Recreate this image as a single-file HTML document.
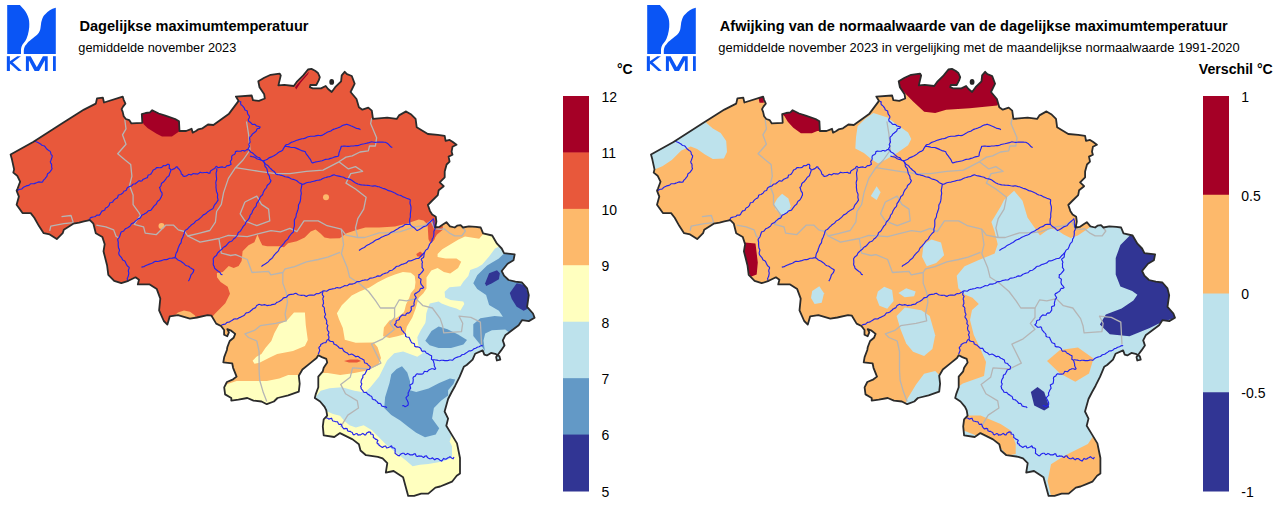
<!DOCTYPE html>
<html><head><meta charset="utf-8"><style>html,body{margin:0;padding:0;background:#fff;} svg{display:block;}</style></head>
<body><svg width="1280" height="507" viewBox="0 0 1280 507" font-family="Liberation Sans, sans-serif">
<defs><clipPath id="clipBE"><polygon points="10.6,154.5 33.1,142 61.5,123.7 84,109.6 95.8,103.6 97,98.4 102.9,97.7 104,102.5 122.7,96.6 123.7,99.8 125.4,103.7 123.2,106.4 121.6,109.1 122.7,111.9 123.7,116.2 125.9,119 129.2,120.1 131.4,123.4 142.3,122.8 141.8,114.1 145.6,113 150,112.4 152.2,110.2 158.7,113.5 165.3,115.7 175.2,119 179,121.2 179.5,131 186.1,131 191.6,128.8 192.7,132.7 195.9,131 198.1,129.4 202.5,128.3 208,124.5 213.4,125 228.7,114.1 238.6,100.9 235.9,96.6 251.7,95.5 253,100.2 258.9,100.8 264.8,98.5 264.2,94.3 259.5,87.2 258.3,81.3 264.2,77.8 270.7,74.8 279.6,73.6 280.8,75.4 278.4,85.4 284.3,84.9 293.8,86 296.7,81.9 303.3,75.4 308,69.5 311.5,68.9 315.1,70.7 318,73 319.8,77.2 318.6,80.7 316.3,85 310.4,84.9 309.8,87.2 312.7,88.4 321,88.4 325.7,86 328.1,89 331.7,92 335.2,87.2 341.1,81.3 341.7,75.4 344.7,71.8 347,74.2 351.8,76 354.7,83.7 350.6,92 356.5,99 358.9,107.3 362.4,109.7 368.3,107.6 371.8,110.6 373,118.9 387.2,117.7 396.7,118.9 399,115.4 406.1,111.4 410.8,114.2 415.6,118.9 416.7,127.2 427.9,134 437.8,134.9 444.7,135.9 445.6,140.8 449.6,139.9 452.5,141.8 456.5,144.8 452.5,146.8 451.6,151.7 452.5,154.7 448.6,156.6 449.6,161.6 446.6,164.5 444.7,171.4 444.7,177.3 439.7,182.3 443.7,186.2 438.7,190.2 437.8,195.1 431.8,201 427.9,205 429.9,210.9 432.2,214.5 435.8,216.8 436.4,221.6 435.2,227.5 439.3,226.9 442.9,224.5 446.4,222.2 450,226.3 454.7,227.5 457.1,225.7 460.6,225.1 463,227.5 468.9,226.3 476,226.9 480.7,227.5 483.1,233.4 492.2,235.5 497,243.7 501.7,248.5 504,253.2 514.7,254.4 513.5,260.3 507.6,263.8 501.7,271 504,275.7 508.6,280 515.4,281.7 522,282.5 527.1,288.4 528.8,295.1 527.1,306.8 533,313.5 534.6,317.7 528.8,321.1 522,320.2 518.7,325.3 512,330.3 505.3,335.3 502.8,340.4 504.5,345.4 501.1,350.4 498.6,353.8 496.1,357.1 496.9,360.5 500.3,359.6 499.4,356.3 495.2,353.8 491,352.9 486.9,355.4 484.3,354.6 482.7,350.4 475.1,353.8 472.6,359.6 466.7,365 463.8,366.8 459.6,376.9 455.2,385.7 451.7,392 448.1,399 444.6,411.5 448.1,418.6 446.3,425.7 451.7,434.6 457,443.4 460,458 460,473.4 456.7,475.8 452,481.7 446,484.1 440.1,486.5 435.4,487.6 428.3,493.6 421.2,493.6 414.1,495.9 408.2,495.9 403.1,477.3 393.6,471 385.8,472.6 387.3,463.1 382.6,458.4 377.9,456.8 366,455.2 360.5,450.5 358.9,444.2 352.6,439.4 340,433.1 334.3,437 323.7,435.3 322.8,426.4 323.7,419.3 327.2,415.7 326.3,410.4 324.6,406.8 320.1,401.5 314.8,398 315.7,394.4 318.3,387.3 318.3,376.6 322.8,371.3 323.7,367.8 327.2,362.4 326.3,358.9 321.9,357.1 318.3,355.3 316.6,358 311.2,362.4 302.4,369.5 298.8,375.8 299.7,383.7 298.8,391.7 288.2,395.3 277.5,398 273.9,401.5 266.8,404.2 261.5,401.5 253.5,400.6 247.3,398 238.4,399.7 231.3,400.6 231.3,398 225.1,394.4 224.2,387.3 226.9,382 233.1,379.3 236.6,376.6 233.1,367.8 232.2,363.3 223.3,362.4 224.2,357.1 226.9,350 227.3,347.3 229.7,341 233.6,337.8 235.2,333.9 231.2,330.7 227.3,329.1 228.9,332.3 227.3,336.2 224.1,334.7 224.1,330 221,326 216.2,323.6 211.5,315.7 207.6,315.1 197,317.5 189.9,318.7 178,315.1 169.8,316.3 167.4,324.6 163.8,321 159.1,310.4 160.3,298.6 156.8,289.1 149.7,284.4 137.8,284.4 139,279.7 135.5,277.3 128.4,280.8 121.3,283.2 114.2,280.8 108.3,274.9 107.1,265.5 103.5,251.3 104.7,244.2 102.4,237.1 95.8,233.2 93.4,223.7 89.9,220.2 83.9,221.4 79.2,222.6 73.3,223.7 63.8,229.7 62.7,233.2 56.8,239.1 49.7,234.4 43.7,233.2 39,226.1 34.3,217.8 30.7,213.1 22.5,213.1 16.6,204.8 18.9,196.6 16.6,190.6 17.7,188.3 20.1,181.7 17.2,175.7 13.3,172.6 14.1,169.4 11.7,158.4"/></clipPath><clipPath id="clipBE2"><polygon transform="translate(640.4,0)" points="10.6,154.5 33.1,142 61.5,123.7 84,109.6 95.8,103.6 97,98.4 102.9,97.7 104,102.5 122.7,96.6 123.7,99.8 125.4,103.7 123.2,106.4 121.6,109.1 122.7,111.9 123.7,116.2 125.9,119 129.2,120.1 131.4,123.4 142.3,122.8 141.8,114.1 145.6,113 150,112.4 152.2,110.2 158.7,113.5 165.3,115.7 175.2,119 179,121.2 179.5,131 186.1,131 191.6,128.8 192.7,132.7 195.9,131 198.1,129.4 202.5,128.3 208,124.5 213.4,125 228.7,114.1 238.6,100.9 235.9,96.6 251.7,95.5 253,100.2 258.9,100.8 264.8,98.5 264.2,94.3 259.5,87.2 258.3,81.3 264.2,77.8 270.7,74.8 279.6,73.6 280.8,75.4 278.4,85.4 284.3,84.9 293.8,86 296.7,81.9 303.3,75.4 308,69.5 311.5,68.9 315.1,70.7 318,73 319.8,77.2 318.6,80.7 316.3,85 310.4,84.9 309.8,87.2 312.7,88.4 321,88.4 325.7,86 328.1,89 331.7,92 335.2,87.2 341.1,81.3 341.7,75.4 344.7,71.8 347,74.2 351.8,76 354.7,83.7 350.6,92 356.5,99 358.9,107.3 362.4,109.7 368.3,107.6 371.8,110.6 373,118.9 387.2,117.7 396.7,118.9 399,115.4 406.1,111.4 410.8,114.2 415.6,118.9 416.7,127.2 427.9,134 437.8,134.9 444.7,135.9 445.6,140.8 449.6,139.9 452.5,141.8 456.5,144.8 452.5,146.8 451.6,151.7 452.5,154.7 448.6,156.6 449.6,161.6 446.6,164.5 444.7,171.4 444.7,177.3 439.7,182.3 443.7,186.2 438.7,190.2 437.8,195.1 431.8,201 427.9,205 429.9,210.9 432.2,214.5 435.8,216.8 436.4,221.6 435.2,227.5 439.3,226.9 442.9,224.5 446.4,222.2 450,226.3 454.7,227.5 457.1,225.7 460.6,225.1 463,227.5 468.9,226.3 476,226.9 480.7,227.5 483.1,233.4 492.2,235.5 497,243.7 501.7,248.5 504,253.2 514.7,254.4 513.5,260.3 507.6,263.8 501.7,271 504,275.7 508.6,280 515.4,281.7 522,282.5 527.1,288.4 528.8,295.1 527.1,306.8 533,313.5 534.6,317.7 528.8,321.1 522,320.2 518.7,325.3 512,330.3 505.3,335.3 502.8,340.4 504.5,345.4 501.1,350.4 498.6,353.8 496.1,357.1 496.9,360.5 500.3,359.6 499.4,356.3 495.2,353.8 491,352.9 486.9,355.4 484.3,354.6 482.7,350.4 475.1,353.8 472.6,359.6 466.7,365 463.8,366.8 459.6,376.9 455.2,385.7 451.7,392 448.1,399 444.6,411.5 448.1,418.6 446.3,425.7 451.7,434.6 457,443.4 460,458 460,473.4 456.7,475.8 452,481.7 446,484.1 440.1,486.5 435.4,487.6 428.3,493.6 421.2,493.6 414.1,495.9 408.2,495.9 403.1,477.3 393.6,471 385.8,472.6 387.3,463.1 382.6,458.4 377.9,456.8 366,455.2 360.5,450.5 358.9,444.2 352.6,439.4 340,433.1 334.3,437 323.7,435.3 322.8,426.4 323.7,419.3 327.2,415.7 326.3,410.4 324.6,406.8 320.1,401.5 314.8,398 315.7,394.4 318.3,387.3 318.3,376.6 322.8,371.3 323.7,367.8 327.2,362.4 326.3,358.9 321.9,357.1 318.3,355.3 316.6,358 311.2,362.4 302.4,369.5 298.8,375.8 299.7,383.7 298.8,391.7 288.2,395.3 277.5,398 273.9,401.5 266.8,404.2 261.5,401.5 253.5,400.6 247.3,398 238.4,399.7 231.3,400.6 231.3,398 225.1,394.4 224.2,387.3 226.9,382 233.1,379.3 236.6,376.6 233.1,367.8 232.2,363.3 223.3,362.4 224.2,357.1 226.9,350 227.3,347.3 229.7,341 233.6,337.8 235.2,333.9 231.2,330.7 227.3,329.1 228.9,332.3 227.3,336.2 224.1,334.7 224.1,330 221,326 216.2,323.6 211.5,315.7 207.6,315.1 197,317.5 189.9,318.7 178,315.1 169.8,316.3 167.4,324.6 163.8,321 159.1,310.4 160.3,298.6 156.8,289.1 149.7,284.4 137.8,284.4 139,279.7 135.5,277.3 128.4,280.8 121.3,283.2 114.2,280.8 108.3,274.9 107.1,265.5 103.5,251.3 104.7,244.2 102.4,237.1 95.8,233.2 93.4,223.7 89.9,220.2 83.9,221.4 79.2,222.6 73.3,223.7 63.8,229.7 62.7,233.2 56.8,239.1 49.7,234.4 43.7,233.2 39,226.1 34.3,217.8 30.7,213.1 22.5,213.1 16.6,204.8 18.9,196.6 16.6,190.6 17.7,188.3 20.1,181.7 17.2,175.7 13.3,172.6 14.1,169.4 11.7,158.4"/></clipPath></defs>
<rect width="1280" height="507" fill="#fff"/>
<g transform="translate(0,0)" fill="#0a55f5">
<path d="M7.2,5 H19.9 C23,8.5 25.5,11 26.5,13.3 C28.5,17 29.3,20 29.3,24 C29.5,28 28.5,34 26.5,38.7 C25,42 23,43.5 22.1,45.3 C21.2,47.3 21,49 21,50.5 V53.9 H7.2 Z"/>
<path d="M55.8,7.7 V53.9 H23.8 V50.5 C24,47.5 25,45.5 26.5,44.2 C28,42 29.5,41 30.9,39.8 C33.5,37.5 36,36 37.6,34.3 C39.5,32 40.3,30 40.5,28 C41,25 41,22.5 41.6,21 C42.5,17.5 43.5,15.8 45.5,14 C48,11.2 51,8.8 55.8,7.7 Z"/>
<rect x="6.84" y="56.2" width="3.06" height="14.8"/>
<path d="M17.3,56.2 H20.8 L9.9,64.6 V61.3 Z"/>
<path d="M12.3,62 L21.9,71 H18.2 L10.2,63.7 Z"/>
<path d="M25.9,71 V56.2 H30.7 L36.8,67.3 L42.9,56.2 H47.7 V71 H44.9 V60.3 L39,71 H34.6 L28.9,60.3 V71 Z"/>
<rect x="53" y="56.2" width="2.8" height="14.8"/>
</g>
<g transform="translate(640,0)" fill="#0a55f5">
<path d="M7.2,5 H19.9 C23,8.5 25.5,11 26.5,13.3 C28.5,17 29.3,20 29.3,24 C29.5,28 28.5,34 26.5,38.7 C25,42 23,43.5 22.1,45.3 C21.2,47.3 21,49 21,50.5 V53.9 H7.2 Z"/>
<path d="M55.8,7.7 V53.9 H23.8 V50.5 C24,47.5 25,45.5 26.5,44.2 C28,42 29.5,41 30.9,39.8 C33.5,37.5 36,36 37.6,34.3 C39.5,32 40.3,30 40.5,28 C41,25 41,22.5 41.6,21 C42.5,17.5 43.5,15.8 45.5,14 C48,11.2 51,8.8 55.8,7.7 Z"/>
<rect x="6.84" y="56.2" width="3.06" height="14.8"/>
<path d="M17.3,56.2 H20.8 L9.9,64.6 V61.3 Z"/>
<path d="M12.3,62 L21.9,71 H18.2 L10.2,63.7 Z"/>
<path d="M25.9,71 V56.2 H30.7 L36.8,67.3 L42.9,56.2 H47.7 V71 H44.9 V60.3 L39,71 H34.6 L28.9,60.3 V71 Z"/>
<rect x="53" y="56.2" width="2.8" height="14.8"/>
</g>
<text x="79.5" y="30.8" font-size="14" font-weight="bold" textLength="229" lengthAdjust="spacingAndGlyphs">Dagelijkse maximumtemperatuur</text>
<text x="78.3" y="51.5" font-size="12.5" textLength="158" lengthAdjust="spacingAndGlyphs">gemiddelde november 2023</text>
<text x="719.8" y="30.8" font-size="14" font-weight="bold" textLength="508" lengthAdjust="spacingAndGlyphs">Afwijking van de normaalwaarde van de dagelijkse maximumtemperatuur</text>
<text x="718.3" y="51.5" font-size="12.5" textLength="521.4" lengthAdjust="spacingAndGlyphs">gemiddelde november 2023 in vergelijking met de maandelijkse normaalwaarde 1991-2020</text>
<g><polygon points="10.6,154.5 33.1,142 61.5,123.7 84,109.6 95.8,103.6 97,98.4 102.9,97.7 104,102.5 122.7,96.6 123.7,99.8 125.4,103.7 123.2,106.4 121.6,109.1 122.7,111.9 123.7,116.2 125.9,119 129.2,120.1 131.4,123.4 142.3,122.8 141.8,114.1 145.6,113 150,112.4 152.2,110.2 158.7,113.5 165.3,115.7 175.2,119 179,121.2 179.5,131 186.1,131 191.6,128.8 192.7,132.7 195.9,131 198.1,129.4 202.5,128.3 208,124.5 213.4,125 228.7,114.1 238.6,100.9 235.9,96.6 251.7,95.5 253,100.2 258.9,100.8 264.8,98.5 264.2,94.3 259.5,87.2 258.3,81.3 264.2,77.8 270.7,74.8 279.6,73.6 280.8,75.4 278.4,85.4 284.3,84.9 293.8,86 296.7,81.9 303.3,75.4 308,69.5 311.5,68.9 315.1,70.7 318,73 319.8,77.2 318.6,80.7 316.3,85 310.4,84.9 309.8,87.2 312.7,88.4 321,88.4 325.7,86 328.1,89 331.7,92 335.2,87.2 341.1,81.3 341.7,75.4 344.7,71.8 347,74.2 351.8,76 354.7,83.7 350.6,92 356.5,99 358.9,107.3 362.4,109.7 368.3,107.6 371.8,110.6 373,118.9 387.2,117.7 396.7,118.9 399,115.4 406.1,111.4 410.8,114.2 415.6,118.9 416.7,127.2 427.9,134 437.8,134.9 444.7,135.9 445.6,140.8 449.6,139.9 452.5,141.8 456.5,144.8 452.5,146.8 451.6,151.7 452.5,154.7 448.6,156.6 449.6,161.6 446.6,164.5 444.7,171.4 444.7,177.3 439.7,182.3 443.7,186.2 438.7,190.2 437.8,195.1 431.8,201 427.9,205 429.9,210.9 432.2,214.5 435.8,216.8 436.4,221.6 435.2,227.5 439.3,226.9 442.9,224.5 446.4,222.2 450,226.3 454.7,227.5 457.1,225.7 460.6,225.1 463,227.5 468.9,226.3 476,226.9 480.7,227.5 483.1,233.4 492.2,235.5 497,243.7 501.7,248.5 504,253.2 514.7,254.4 513.5,260.3 507.6,263.8 501.7,271 504,275.7 508.6,280 515.4,281.7 522,282.5 527.1,288.4 528.8,295.1 527.1,306.8 533,313.5 534.6,317.7 528.8,321.1 522,320.2 518.7,325.3 512,330.3 505.3,335.3 502.8,340.4 504.5,345.4 501.1,350.4 498.6,353.8 496.1,357.1 496.9,360.5 500.3,359.6 499.4,356.3 495.2,353.8 491,352.9 486.9,355.4 484.3,354.6 482.7,350.4 475.1,353.8 472.6,359.6 466.7,365 463.8,366.8 459.6,376.9 455.2,385.7 451.7,392 448.1,399 444.6,411.5 448.1,418.6 446.3,425.7 451.7,434.6 457,443.4 460,458 460,473.4 456.7,475.8 452,481.7 446,484.1 440.1,486.5 435.4,487.6 428.3,493.6 421.2,493.6 414.1,495.9 408.2,495.9 403.1,477.3 393.6,471 385.8,472.6 387.3,463.1 382.6,458.4 377.9,456.8 366,455.2 360.5,450.5 358.9,444.2 352.6,439.4 340,433.1 334.3,437 323.7,435.3 322.8,426.4 323.7,419.3 327.2,415.7 326.3,410.4 324.6,406.8 320.1,401.5 314.8,398 315.7,394.4 318.3,387.3 318.3,376.6 322.8,371.3 323.7,367.8 327.2,362.4 326.3,358.9 321.9,357.1 318.3,355.3 316.6,358 311.2,362.4 302.4,369.5 298.8,375.8 299.7,383.7 298.8,391.7 288.2,395.3 277.5,398 273.9,401.5 266.8,404.2 261.5,401.5 253.5,400.6 247.3,398 238.4,399.7 231.3,400.6 231.3,398 225.1,394.4 224.2,387.3 226.9,382 233.1,379.3 236.6,376.6 233.1,367.8 232.2,363.3 223.3,362.4 224.2,357.1 226.9,350 227.3,347.3 229.7,341 233.6,337.8 235.2,333.9 231.2,330.7 227.3,329.1 228.9,332.3 227.3,336.2 224.1,334.7 224.1,330 221,326 216.2,323.6 211.5,315.7 207.6,315.1 197,317.5 189.9,318.7 178,315.1 169.8,316.3 167.4,324.6 163.8,321 159.1,310.4 160.3,298.6 156.8,289.1 149.7,284.4 137.8,284.4 139,279.7 135.5,277.3 128.4,280.8 121.3,283.2 114.2,280.8 108.3,274.9 107.1,265.5 103.5,251.3 104.7,244.2 102.4,237.1 95.8,233.2 93.4,223.7 89.9,220.2 83.9,221.4 79.2,222.6 73.3,223.7 63.8,229.7 62.7,233.2 56.8,239.1 49.7,234.4 43.7,233.2 39,226.1 34.3,217.8 30.7,213.1 22.5,213.1 16.6,204.8 18.9,196.6 16.6,190.6 17.7,188.3 20.1,181.7 17.2,175.7 13.3,172.6 14.1,169.4 11.7,158.4" fill="#e8583b"/>
<g clip-path="url(#clipBE)">
<polygon points="200,330 215.9,312.8 225.3,303.3 230,293.8 227.7,286.7 220.6,282 217,277.3 216.9,272.9 222.8,271.9 228.7,266 233.7,268 238.6,266 241.6,261 242.6,251.2 248.5,245.3 254.4,242.3 257.4,234.4 260.3,241.3 262.3,245.3 267.2,246.2 279,246.2 284,247.2 288,243.3 296.8,241.3 304.7,237.4 310.7,231.4 315.6,229.5 320.5,233.4 324.5,237.4 330,238.4 339.7,238.2 346.6,233.3 355.5,230.3 365.4,227.4 379.2,227.4 395,226.4 406.8,223.4 412.8,221.4 418.7,219.5 423.6,220.5 427.6,224.4 428.5,239.2 430.5,243.2 434.4,239.7 436.4,229.3 442,224 446,224 452,226 470,220 560,220 560,520 200,520" fill="#fdb96b" />
<polygon points="252.6,360.8 256.5,356.8 261.4,353.9 265.4,348 271.3,341 274.3,333.2 279.2,324.3 287.1,320.3 294,312.4 304.9,312.4 305.8,325.3 307.8,340 304.9,346 293,350.9 277.2,353.9 269.3,357.8 259.5,362.8 254.5,363.7" fill="#ffffbf" />
<polygon points="490,226 479.2,238.7 465,236.6 458.1,239.7 450.2,244.5 442.3,249.2 437.6,253.9 437.6,257.1 445.5,258.6 456.5,258.6 461.2,261.8 458.1,268.1 450.2,273.6 443.9,272 437.6,268.1 431.3,270.5 426.5,277.6 426.5,288.6 423.4,293.3 418.6,298.1 415.5,309.1 412.3,317.4 406.8,326.8 405.2,333.9 397.3,336.3 389.4,337.9 383.1,336.3 383.9,327.6 389.4,320.5 397.3,317.4 403.6,312.6 404.5,310.7 406,304.4 409.2,298.1 410.8,293.3 414.7,288.6 415.5,282.3 414.7,276 410.8,272.8 402.9,272 395,274.4 387.2,277.6 377.4,282.6 369.5,287.5 359.6,291.4 351.7,295.4 341.8,305.3 336.9,313.2 338.9,319.1 342.8,328 344.8,339.8 355.7,342.8 373.7,342.6 377.6,347.3 381,358 378.3,365 366.8,370.4 354.4,373.1 340.2,374.9 327.8,373.1 318,373 305,376 298.8,374.9 288.2,374.9 279.3,378.4 266.8,381.1 254.4,381.1 236.6,381.1 226,384.6 215,386 215,520 560,520 560,226" fill="#ffffbf" />
<polygon points="520,232 500.9,245.7 495,248.6 489.1,256.5 482.2,264.4 477.2,267.4 470.2,270 468.3,275.9 463.3,281.8 460.4,286.3 449.5,287.3 444.6,291.7 445.1,297.6 450.5,300.1 463.3,301.6 464.3,304 460.4,310.4 456.4,308.5 449.5,306.5 441.6,303.5 438.7,301.6 429.8,303.5 427.8,308.5 426.3,313.4 425.8,320 425.3,323.1 420.8,330.2 417.3,337.3 418.2,344.4 422.6,353.3 417.3,356.8 403.1,351.5 394.2,353.3 387.1,360.4 379.2,376.6 370.4,387.3 365,392.6 354.4,390.8 342,387.3 329.5,388.2 320.7,390.8 316.2,396.2 310,400 318,412 325.1,410.4 333.1,413.9 340,415.8 344.7,421.3 349.5,425.2 355.8,427.6 363.7,425.2 371.6,430 377.9,436.3 385.8,444.2 395.2,452.1 406.3,460.7 412.6,466.3 420,464.7 428.3,464 442.5,461.6 452,458 452,446.2 449.6,441.5 452,434.4 470,420 560,420 560,232" fill="#bde2ec" />
<polygon points="425.3,340.8 431.5,331.1 438.6,326.6 447.5,329.3 458.1,334.6 467,340 463.4,344.4 451,347.9 438.6,347.9 429.7,345.3" fill="#6399c6" />
<polygon points="560,230 502.9,254.5 498.9,258.5 487.1,265.4 477.2,275.3 473.3,283.2 477.2,289.1 486.1,295 489.1,304.9 498.9,310.8 502.9,316.7 494.6,316 480.4,318.3 473.3,324.2 473.3,336 482.8,347.8 487.5,355 560,360" fill="#6399c6" />
<polygon points="402,366.2 407.3,372.4 410,381.3 410,390.2 416.2,392 428.6,388.4 439.2,383.1 449.9,378.6 455.2,379.5 453.4,384 448.1,390.2 448.1,395.5 441,400.8 433.9,407.9 432.1,418.6 439.2,428.3 435.7,434.6 425,437.2 416.2,432.8 409.1,427.5 400.2,420.4 391.3,415 384.2,407.9 385.1,397.3 389.5,383.1 391.3,374.2 396.6,368.9" fill="#6399c6" />
<polygon points="483.5,340.4 485.2,333.6 491.9,330.3 505.3,329.5 508.6,332 505.3,337.8 503.6,343.7 502,350.4 500,358 486,358 484.3,347.1" fill="#bde2ec" />
<polygon points="434,227 443,226 442.5,230 437,234.5 433,241" fill="#e8583b" />
<polygon points="416.3,253.9 420.2,251.6 423.4,253.9 421.8,257.1 417.1,256.3" fill="#e8583b" />
<polygon points="344,361 350,359.4 358,359.6 361,361 357,362.6 349,362.6" fill="#e8583b" />
<polygon points="174,316 178,312.5 184,310.6 190,311.8 195,315.5 197,320 180,320" fill="#fdb96b" />
<polygon points="485.1,283.2 489.1,273.3 497,270.3 499.9,273.3 498.9,279.2 492,283.2 486.1,286.1" fill="#313594" />
<polygon points="509.8,293 516.7,283.2 524.6,285.1 529.5,297 527.6,308.8 523.6,310.8 516.7,306.8 511.8,299" fill="#313594" />
<circle cx="326" cy="197.3" r="3" fill="#fdb96b"/><circle cx="161.5" cy="225.9" r="3" fill="#fdb96b"/>
<polygon points="141,114 152.2,110.2 158.7,113.5 165.3,115.7 175.2,119 179,121.2 179.5,131 178.4,132.1 171.9,136.5 162,136.5 156.6,133.7 147.8,128.3 143.4,123.9" fill="#a50026" />
<polygon points="295,87.2 297.3,84.3 302,78.9 309.2,71.2 308,74.2 300.9,82.5 296.2,89.6" fill="#a50026" />
<polyline points="124.8,119.5 126,128.9 122.5,134.8 126,144.3 117.7,153.7 124.8,159.7 130.7,164.4 131.9,176.2 129.6,185.7 133.1,195.1 133.1,204.6 138.9,212.6 140.5,215.7 137,220 134.2,224.4 143.6,226.8 145.2,233.1 156.2,234.7 165.7,225.2 173.6,225.2 178.3,229.9 184.6,231.5 187.7,236 198.8,233.3 209.8,230.5 215.4,222.2 216.6,211.5 221.3,204.4 223.6,192.6 228.4,178.4 235.5,167.7 259.1,171.3 275.7,173.6 289.9,173.6 306.4,171.3 323,170.1 338.9,161.8 348.4,168.9 355.5,166.6 362.6,171.3 350.7,173.6 346,183.1 355.5,189 366.1,197.3 363.7,209.1 357.8,218.6 355.5,228 357.8,237.5 364.9,237.5 379.1,232.8 390.9,232.8 400.4,231.6 414.6,226.9 424,225.7 431.1,220.9 434.6,228.7 440.5,229.3 444.1,228.7 450,233.4 454.7,235.8 461.8,235.8 465.4,231 463,228" fill="none" stroke="#b5b5b5" stroke-width="1.3" stroke-linejoin="round"/>
<polyline points="246.5,121.5 248.5,133.8 250,150 243,160 235.5,167.7" fill="none" stroke="#b5b5b5" stroke-width="1.3" stroke-linejoin="round"/>
<polyline points="338.9,161.8 346,157.1 352.2,155.9 360,152 368.3,150.8 369.5,146 375.4,146 376.6,137.8 370.6,123.6 371.8,118" fill="none" stroke="#b5b5b5" stroke-width="1.3" stroke-linejoin="round"/>
<polyline points="61.5,216.7 71,215.5 73.3,222.6 63.8,223.7 50.8,226.1 49.7,230.8" fill="none" stroke="#b5b5b5" stroke-width="1.3" stroke-linejoin="round"/>
<polyline points="96.3,225.2 105.8,226.8 113.7,229.9 116,236.2 118.4,237.8" fill="none" stroke="#b5b5b5" stroke-width="1.3" stroke-linejoin="round"/>
<polyline points="244.9,202 256.8,196.1 261.5,204.4 268.6,209.1 269.8,220.9 256.8,225.7 244.9,220.9 240.2,213.8 244.9,202" fill="none" stroke="#b5b5b5" stroke-width="1.3" stroke-linejoin="round"/>
<polyline points="187.7,236 200,242.2 218.9,238.5 228.4,235.4 247.3,236.6 256.8,234.2 271,230.6 280.4,231.8 289.9,228.3 296.9,231.6 304,220.9 318.2,220.9 327.1,225.7 341.3,229.2 346,235.1 357.8,237.5" fill="none" stroke="#b5b5b5" stroke-width="1.3" stroke-linejoin="round"/>
<polyline points="218.9,238.5 221.3,253.1 230.7,255.5 235.5,254.7 247.3,259.5 252,272.5 268.6,271.3 270.9,274.8 282.8,272.5 285.1,268.9 294.6,266.6 306.4,261.8 318.2,259.5 327.7,257.1 340,252.4" fill="none" stroke="#b5b5b5" stroke-width="1.3" stroke-linejoin="round"/>
<polyline points="341.3,229.2 343.6,244.6 341.4,253.6 347.3,267.8 349.7,277.3 359.1,283.2 368.6,291.5 375.7,300.9 380.4,308 394.6,308 399.3,299.8 406.4,300.9 415.9,298.6 423,305.7 432.4,308 440.2,318.6 442.6,325.7 443.7,332.8 461.5,331.6 462.7,323.3 459.1,316.2 470.9,317.4 480.4,322.1 481.6,344.6" fill="none" stroke="#b5b5b5" stroke-width="1.3" stroke-linejoin="round"/>
<polyline points="282.8,272.5 282.8,283.1 286.3,292.6 287.5,302 285.1,313.8 286.3,320.9 275.7,323.3 260.3,325.7 254.4,330.4 244.9,333.9 248.5,337.5 256.8,341 259.1,351.7 259.1,370 259.7,380.2 263.3,392.6 266.8,401.5" fill="none" stroke="#b5b5b5" stroke-width="1.3" stroke-linejoin="round"/>
<polyline points="394.6,308 394.6,317.5 389.9,323.4 394.6,329.3 382.8,338.8 371.5,344.2 380.9,363.1 369.1,369 352.6,367.8 350.2,377.3 340.7,384.4 345.5,393.8 357.3,400.9 358.5,408 347.8,415.1 340.7,426.9" fill="none" stroke="#b5b5b5" stroke-width="1.3" stroke-linejoin="round"/>
<polyline points="34.3,140.3 35.1,141.3 36.2,141.8 37.4,142.2 38.5,142.8 39.6,143.4 40.6,144.0 41.5,144.9 42.6,145.5 43.9,145.7 45.0,146.5 45.7,147.7 46.5,148.7 47.5,149.5 48.5,150.4 49.8,151.0 50.6,152.0 50.8,153.4 51.2,154.6 52.2,155.7 52.1,157.0 51.7,158.1 51.3,159.2 50.9,160.4 50.3,161.7 50.6,162.8 51.4,163.9 51.7,165.1 51.6,166.3 51.7,167.5 52.1,168.7 51.4,169.8 50.7,170.8 50.0,171.9 49.1,172.7 47.9,173.4 47.3,174.5 47.1,175.8 46.4,176.8 45.6,177.8 44.9,178.8 44.0,179.7 43.2,180.6 42.6,181.9 41.5,182.3 40.2,182.1 38.9,181.9 37.8,182.3 36.6,182.8 35.5,183.1 34.3,183.6 33.1,183.8 31.9,183.7 30.6,183.8 29.7,184.7 28.7,185.4 27.4,185.6 26.2,185.9 25.1,186.4 24.0,186.9 23.0,187.7 22.2,188.7 21.0,189.2 19.7,189.3 18.6,189.8 17.6,190.6 16.5,191.0" fill="none" stroke="#2222ee" stroke-width="1.15" stroke-linejoin="round"/>
<polyline points="88.6,220.1 89.7,219.3 90.4,217.8 91.6,217.4 92.9,217.0 94.2,216.8 95.5,216.5 96.4,215.3 97.6,215.0 99.1,215.2 100.2,214.2 100.8,213.0 101.5,211.9 102.2,210.9 103.7,210.6 104.8,210.0 105.2,208.6 106.1,207.7 107.4,207.2 108.2,206.3 109.1,205.4 109.5,204.1 110.0,202.8 111.5,202.5 112.8,202.0 113.3,200.8 114.2,199.9 115.1,199.1 116.1,198.4 117.3,198.0 117.9,196.8 118.2,195.3 119.4,194.8 120.7,194.5 121.7,193.8 122.7,193.1 123.4,192.0 124.1,191.0 125.4,190.7 126.5,190.0 126.8,188.6 127.6,187.6 128.6,187.0 129.7,186.4 131.0,186.2 132.0,185.6 132.8,184.3 134.0,184.0 135.3,183.9 136.2,183.0 137.3,182.2 138.2,181.3 139.3,180.7 140.9,181.1 142.1,180.8 142.8,179.6 144.0,179.0 145.1,178.5 146.2,178.0 147.5,177.6 147.8,176.2 148.2,175.0 149.7,174.7 150.9,174.1 151.5,173.0 152.2,172.0 152.7,170.8 153.4,169.8 154.5,169.5 155.6,168.8 156.5,167.6 157.8,167.6 159.2,167.7 160.4,167.6 161.7,167.4 162.7,166.3 163.7,165.5 165.1,165.8 166.3,165.4 167.3,164.4 168.9,164.3 169.4,165.5 169.3,166.9 169.1,168.3 170.4,169.1 170.7,169.9 172.1,169.7 173.2,169.1 174.5,168.6 175.5,167.7 176.5,166.8 177.6,167.0 177.9,168.3 179.2,169.2 179.9,170.3 180.7,171.3 181.1,172.6 181.3,174.0 182.7,174.8 182.7,175.8 184.1,176.4 185.3,176.2 186.4,175.9 187.5,175.3 188.6,174.4 189.8,174.5 191.1,174.9 192.2,174.2 193.3,173.6 194.6,173.8 196.1,173.8 197.6,174.1 198.9,173.2 200.2,172.2 201.7,172.7 203.0,172.7 204.3,172.5 205.6,172.5 206.9,172.3 208.2,173.1 210.0,173.1 210.3,171.4 211.2,170.4 212.4,169.8 213.5,169.1 214.8,168.5 215.4,167.2 216.6,166.3 217.9,167.6 219.3,167.4 220.8,167.1 222.3,166.9 223.4,167.3 225.0,167.5 226.0,166.6 227.0,165.6 228.5,165.6 229.7,165.1 231.1,164.3 230.7,162.8 230.2,161.3 231.4,160.1 231.8,158.7 231.6,157.3 231.9,155.9 233.0,155.0 234.4,154.5 235.2,153.4 235.5,151.6 237.1,151.1 238.4,151.3 239.6,151.2 240.9,151.2 242.1,150.5 243.3,150.5 244.7,151.1 245.8,150.4 247.0,149.5 247.8,149.8 248.2,148.6 249.0,147.4 249.5,146.1 248.8,144.7 249.3,143.4 250.1,142.2 249.9,140.9 249.8,139.5 249.6,138.2 249.9,136.9 251.0,136.1 251.8,135.2 252.4,133.9 253.5,133.3 254.4,132.5 255.4,131.7 256.4,130.9 256.7,129.4 257.7,128.5 259.3,128.5 260.2,127.0 258.9,126.6 257.7,126.2 256.4,125.9 255.5,124.8 254.3,124.2 252.7,124.5 251.6,123.7 250.7,122.6 249.6,121.8 248.9,121.6 248.4,120.3 248.4,119.1 249.3,118.0 249.5,116.8 249.2,115.8 248.4,114.8 247.7,113.8 247.4,112.5 247.3,111.0 246.1,110.4 244.8,109.8 244.5,108.5 243.8,107.4 243.0,106.5 242.2,105.5 241.0,104.8 240.6,103.6 240.8,101.9 239.4,101.4" fill="none" stroke="#2222ee" stroke-width="1.15" stroke-linejoin="round"/>
<polyline points="127.9,281.1 127.5,279.8 127.2,278.5 127.8,277.3 128.3,276.1 128.5,274.9 128.8,273.6 128.7,272.3 128.3,271.0 128.5,269.8 129.1,268.6 129.1,267.2 128.0,266.5 127.2,265.6 126.6,264.6 126.0,263.5 125.5,262.3 125.0,261.2 123.9,260.5 122.7,259.9 122.1,258.9 121.6,257.7 120.8,256.8 120.0,255.9 119.2,254.9 118.8,253.7 118.8,252.4 119.3,251.1 119.5,249.8 118.8,248.6 118.4,247.3 118.3,246.1 118.2,244.8 118.2,243.5 118.3,242.2 117.9,241.0 117.7,239.3 118.7,238.0 119.5,237.0 119.9,235.7 120.3,234.5 120.7,233.3 121.2,231.9 122.5,231.5 123.7,231.0 124.5,229.8 125.3,228.8 126.5,228.3 127.7,227.7 128.8,227.0 129.9,226.3 130.6,225.2 131.3,224.0 132.4,223.3 133.6,222.9 134.5,222.1 135.3,221.1 136.3,220.4 137.2,219.6 138.2,218.8 139.5,218.4 140.5,217.8 141.1,216.5 141.7,215.3 142.8,214.7 144.0,214.2 145.0,213.5 146.1,213.0 147.1,212.2 147.9,211.2 149.0,210.6 150.4,210.5 151.4,209.8 152.1,208.6 152.9,207.7 153.6,206.6 154.4,205.6 155.5,204.7 156.5,203.8 156.9,202.5 157.6,201.3 158.8,200.6 159.7,199.7 160.4,198.5 161.1,197.3 161.5,196.0 162.0,195.4 162.1,194.1 162.0,192.8 161.3,191.8 160.6,190.8 160.3,189.6 160.0,188.5 159.5,187.5 160.5,186.6 161.1,185.4 161.3,183.9 162.1,182.8 163.4,182.1 164.2,181.1 165.0,180.1 165.8,179.1 166.4,178.0 167.2,177.0 168.3,176.4 169.2,175.5 169.5,174.1 169.9,173.1 170.4,171.7 170.9,170.3" fill="none" stroke="#2222ee" stroke-width="1.15" stroke-linejoin="round"/>
<polyline points="216.6,168.3 216.8,169.5 216.8,170.7 216.4,171.9 216.1,173.1 216.2,174.3 216.3,175.5 216.4,176.7 216.5,177.9 216.6,179.1 216.4,180.3 216.0,181.5 215.8,182.7 215.9,183.9 216.1,185.1 216.0,186.3 216.0,187.6 216.2,188.8 216.3,190.1 216.5,191.4 216.9,192.6 217.5,193.8 217.7,195.0 217.5,196.3 217.5,197.6 217.8,198.9 218.1,200.1 217.4,201.1 216.7,202.2 216.1,203.2 215.2,204.2 214.4,205.1 213.9,206.3 213.5,207.5 212.8,208.7 211.7,209.3 210.6,209.9 209.5,210.6 208.5,211.3 207.4,212.0 206.6,213.0 205.6,213.8 204.5,214.4 203.3,214.9 202.4,215.8 201.6,216.8 200.7,217.7 199.8,218.4 198.9,219.2 197.8,219.9 196.7,220.4 195.7,221.1 194.9,222.1 194.1,223.1 193.1,223.8 192.0,224.4 191.1,225.2 190.3,226.1 189.3,226.9 188.5,227.8 187.7,228.7 186.8,229.5 185.6,230.0 184.8,231.0 184.4,232.2 184.2,233.4 183.8,234.6 183.3,235.7 182.9,236.9 182.4,238.0 181.8,239.1 181.4,240.3 181.3,241.6 181.0,242.8 180.2,243.9 179.5,244.9 179.0,246.0 178.6,247.2 178.1,248.3 177.8,249.5 177.5,250.8 177.0,251.9 176.3,252.9 175.8,254.1 175.6,255.4 175.4,256.6 174.7,257.8 173.4,257.9 172.2,258.1 170.9,258.2 169.7,258.3 168.5,258.7 167.4,259.4 166.2,259.6 164.9,259.6 163.7,259.8 162.5,260.2 161.3,260.6 160.1,260.9 158.9,261.2 157.7,261.5 156.4,261.4 155.0,261.4 153.9,262.0 152.9,262.8 151.8,263.3 150.6,263.7 149.4,264.1 148.3,264.6 147.1,265.0 146.0,265.5 144.9,266.1 143.8,266.7 142.6,266.9 141.4,267.3" fill="none" stroke="#2222ee" stroke-width="1.15" stroke-linejoin="round"/>
<polyline points="174.6,257.6 175.8,258.0 176.7,258.8 177.6,259.7 178.6,260.3 179.7,260.8 180.8,261.3 181.8,262.0 182.8,262.7 183.8,263.4 184.6,264.3 185.5,265.2 186.6,265.7 187.9,266.0 188.9,266.5 189.9,267.4 190.8,268.1 191.9,268.7 192.9,269.3 193.9,270.0 193.5,271.2 193.1,272.4 192.3,273.4 191.4,274.3 190.8,275.4 190.5,276.6 190.1,277.8 189.6,278.9 189.1,280.0 188.4,281.1" fill="none" stroke="#2222ee" stroke-width="1.15" stroke-linejoin="round"/>
<polyline points="248.6,149.5 249.5,150.4 250.1,151.5 251.0,152.3 252.2,152.8 253.2,153.5 254.1,154.4 255.0,155.2 255.9,156.0 256.8,156.9 258.0,157.3 259.3,157.6 260.1,158.5 260.8,159.7 261.8,160.4 262.8,161.1 263.7,161.8 264.3,163.0 264.8,164.1 264.8,165.5 265.2,166.7 266.2,167.6 266.9,168.7 267.1,170.0 267.4,171.2 267.7,172.5 267.9,173.7 268.6,174.8 269.3,175.9 269.6,177.2 269.6,178.5 270.3,179.6 271.0,180.8 270.4,181.9 269.8,183.0 269.0,184.0 267.8,184.8 267.0,185.8 266.7,187.2 266.0,188.3 265.1,189.2 264.4,190.2 263.7,191.4 263.2,192.4 262.9,193.7 262.5,194.8 261.5,195.7 260.5,196.5 260.0,197.6 259.7,198.8 259.1,199.8 258.5,200.9 257.9,202.0 257.1,202.9 256.5,203.9 256.4,205.2 256.0,206.4 255.1,207.3 254.2,208.2 253.6,209.2 253.0,210.2 252.4,211.3 252.1,212.5 251.6,213.6 250.7,214.5 250.0,215.5 249.8,216.8 249.4,217.9 248.7,218.9 248.0,219.9 247.2,220.8 246.2,221.7 245.6,222.8 245.3,224.2 244.5,225.1 243.5,226.0 242.8,227.1 242.2,228.2 241.5,229.3 240.9,230.4 240.1,231.4 238.9,232.1 238.0,233.0 237.7,234.4 237.1,235.5 236.3,236.5 235.5,237.5 234.6,238.3 233.5,239.0 232.8,240.0 232.0,241.0 230.8,241.5 229.5,241.9 228.6,242.7 227.8,243.7 227.0,244.6 226.2,245.5 225.3,246.4 224.1,246.9 223.1,247.6 222.4,248.7 221.6,249.6 220.5,250.3 219.5,251.1 218.6,252.0 217.7,252.9 217.1,254.0 216.6,255.3 215.7,256.1 214.5,256.8 213.8,257.8 213.2,258.8 213.3,260.1 213.4,261.4 213.4,262.8 213.2,264.1 213.5,265.4 214.3,266.6 214.4,267.8 215.2,268.8 216.3,269.7 217.3,270.5 218.4,271.4 219.6,272.0 220.4,273.1 221.1,274.4 222.5,274.8" fill="none" stroke="#2222ee" stroke-width="1.15" stroke-linejoin="round"/>
<polyline points="263.9,161.7 264.6,162.8 265.3,163.9 266.4,164.7 267.6,165.3 268.5,166.2 269.3,167.3 270.2,168.2 271.1,169.0 272.0,170.0 273.0,170.8 274.1,171.5 275.0,172.5 275.6,173.8 276.8,174.4 278.0,174.6 279.2,174.7 280.4,175.1 281.6,175.4 282.8,175.7 284.0,176.2 285.1,176.8 286.3,177.0 287.6,177.1 288.8,177.4 289.9,178.1 291.0,178.7 292.2,179.1 293.3,179.4 294.5,179.7 295.7,180.2 296.8,180.7 297.7,181.5 298.6,182.4 299.6,183.1 300.8,183.5 301.9,184.3 301.7,185.6 301.5,186.9 301.3,188.1 301.0,189.4 300.8,190.7 301.1,192.0 301.3,193.3 301.1,194.6 300.8,195.8 300.7,197.1 300.7,198.4 300.5,199.7 300.3,200.9 300.0,202.1 299.5,203.2 298.8,204.3 298.4,205.5 298.4,206.7 298.4,208.0 298.1,209.2 297.7,210.3 297.3,211.5 296.9,212.7 296.4,213.8 296.2,215.0 296.1,216.2 295.8,217.4 295.1,218.5 294.5,219.6 294.3,220.9 294.4,222.2 294.4,223.6 294.4,224.9 294.3,226.3 293.9,227.6 293.5,228.9 293.5,230.3 293.6,231.7 292.6,232.6 291.6,233.5 290.8,234.5 290.0,235.5 289.2,236.5 288.6,237.6 288.0,238.9 287.1,239.8 286.0,240.6 285.1,241.5 284.4,242.6 283.7,243.6 282.8,244.6 282.0,245.6 281.2,246.5 280.2,247.4 279.4,248.4 278.9,249.6 278.4,250.8 277.5,251.7 276.5,252.6 275.6,253.5 274.8,254.5 274.0,255.4 273.2,256.5 272.6,257.6 271.7,258.5 270.7,259.2 269.7,260.0 268.8,261.1 267.9,262.1 266.9,262.8 265.8,263.6 264.7,264.3 263.5,264.9 262.4,265.6 261.5,266.6" fill="none" stroke="#2222ee" stroke-width="1.15" stroke-linejoin="round"/>
<polyline points="301.7,184.4 303.0,184.2 304.2,183.9 305.3,183.3 306.5,182.7 307.7,182.5 309.0,182.3 310.3,182.2 311.5,181.8 312.7,181.5 313.9,181.2 315.1,180.9 316.3,180.5 317.5,180.2 318.8,180.1 320.1,179.9 321.2,179.4 322.3,178.7 323.5,178.2 324.7,177.8 325.9,177.5 327.1,177.1 328.3,176.8 329.5,176.6 330.7,176.2 331.8,175.6 333.0,175.1 334.2,174.8 335.3,175.3 336.5,175.7 337.7,175.9 338.9,176.1 340.1,176.4 341.3,176.7 342.5,177.0 343.7,177.3 344.8,177.9 345.9,178.5 347.1,178.8 348.3,178.9 349.6,179.2 350.7,179.6 351.7,180.3 352.7,181.0 353.7,181.7 354.7,182.4 355.7,183.0 356.9,183.5 357.8,184.0 359.1,184.2 360.3,184.6 361.5,184.9 362.8,185.0 364.1,185.1 365.3,185.2 366.6,185.3 367.8,185.4 369.1,185.5 370.3,185.8 371.6,186.0 372.8,186.1 374.1,185.9 375.4,185.9 376.6,186.2 377.8,186.6 379.1,186.8 380.2,187.3 381.4,187.8 382.6,188.3 383.8,188.6 385.1,188.9 386.2,189.5 387.3,190.1 388.5,190.6 389.7,190.9 391.0,191.2 392.1,191.7 393.2,192.2 394.3,192.8 395.4,193.3 396.4,194.0 397.5,194.6 398.7,195.0 399.9,195.2 401.0,195.6 402.1,196.3 403.2,196.9 404.3,197.3 405.4,197.7 406.6,198.2 407.7,198.6 408.9,199.0 410.2,199.7 410.2,201.1 410.0,202.5 410.1,203.8 410.5,205.2 410.9,206.5 411.0,207.9 410.9,209.2 410.8,210.6 410.6,211.9 410.4,213.2 410.3,214.6 410.4,216.0 410.3,217.3 409.9,218.6 409.7,220.1 409.7,221.6 409.8,223.0 409.9,224.5" fill="none" stroke="#2222ee" stroke-width="1.15" stroke-linejoin="round"/>
<polyline points="250.0,155.9 251.1,156.4 252.3,156.7 253.5,156.9 254.7,157.3 255.8,158.0 256.8,158.7 258.0,159.1 259.1,159.4 260.3,159.8 261.5,160.2 262.7,160.5 263.7,160.9 264.9,160.3 266.2,159.8 267.4,159.2 268.5,158.3 269.6,157.6 270.9,157.1 272.2,156.6 273.4,156.0 274.4,155.4 275.5,154.8 276.5,154.1 277.5,153.2 278.5,152.4 279.5,151.8 280.7,151.4 281.8,150.8 282.8,150.0 283.4,148.6 284.2,147.4 285.1,146.1 285.9,144.9 287.2,144.5 288.5,144.2 289.6,143.5 290.7,142.7 291.9,142.1 293.1,141.7 294.4,141.2 295.6,140.7 296.8,140.3 298.1,139.9 299.3,139.5 300.6,139.1 301.8,138.7 303.2,138.6 304.5,138.4 305.7,137.9 306.9,137.3 308.1,136.8 309.4,136.5 310.6,136.3 311.9,136.2 313.1,136.2 314.4,136.2 315.6,135.9 316.8,135.6 318.1,135.4 319.3,135.5 320.6,135.6 321.9,135.4 323.0,134.8 324.0,134.2 325.1,133.5 326.2,132.9 327.2,132.2 328.4,131.7 329.6,131.4 330.8,131.0 331.8,130.3 332.8,129.6 334.0,129.1 335.2,128.8 336.4,128.4 337.5,128.0 338.7,127.5 339.9,127.1 341.0,126.5 342.0,125.8 343.1,125.2 344.3,124.9 345.6,124.6 346.7,124.2 347.8,124.6 349.0,125.0 350.2,125.5 351.3,126.0 352.5,126.4 353.6,126.9 354.7,127.6 355.8,128.1 357.0,128.4 358.3,128.6 359.5,129.0 360.5,129.7" fill="none" stroke="#2222ee" stroke-width="1.15" stroke-linejoin="round"/>
<polyline points="284.5,146.3 285.7,146.4 286.9,146.5 288.2,146.6 289.3,146.9 290.5,147.3 291.7,147.5 293.0,147.5 294.3,147.5 295.5,147.9 296.7,148.4 297.9,148.9 299.1,149.4 300.3,150.0 301.5,150.6 302.7,150.9 304.0,151.2 305.3,151.8 305.8,153.0 306.4,154.1 307.2,155.2 308.0,156.2 308.8,157.3 309.6,158.3 310.3,159.3 310.9,160.5 311.4,161.8 312.3,163.0 313.5,162.6 314.7,162.2 315.9,161.9 317.2,161.8 318.4,161.5 319.7,161.2 320.9,161.0 322.1,160.8 323.3,160.3 324.5,159.8 325.7,159.4 326.9,159.3 328.1,159.2 329.2,158.9 330.4,158.4 331.5,158.1 332.7,157.7 333.8,157.3 334.9,156.9 336.1,156.6 337.3,156.4 338.6,156.0 338.8,154.7 338.9,153.4 339.2,152.2 339.7,151.0 340.1,149.8 340.6,148.6 341.0,147.5 341.2,146.4 342.4,146.3 343.7,146.1 344.9,146.0 346.2,146.2 347.4,146.4 348.6,146.4 349.9,146.2 351.1,146.0 352.4,146.0 353.6,146.0 354.8,145.8 356.0,145.6 357.2,145.6 358.4,145.4 359.6,145.0 360.7,144.5 361.9,144.2 363.1,144.0 364.4,143.8 365.5,143.5 366.7,143.2 367.9,142.9 369.1,142.6 370.3,142.2 371.5,141.8 372.8,142.0 374.0,142.3 375.3,142.4 376.6,142.2 377.8,142.1 379.1,142.1 380.3,142.1 381.6,142.0 382.9,142.1 384.1,142.2 385.3,142.2 386.4,142.8 387.6,143.4 388.5,144.3 389.3,145.2 390.2,146.2 391.2,147.0 392.3,147.6" fill="none" stroke="#2222ee" stroke-width="1.15" stroke-linejoin="round"/>
<polyline points="359.0,250.5 360.0,249.8 361.0,249.1 362.0,248.5 363.1,248.0 364.2,247.5 365.2,246.7 366.1,245.9 367.1,245.2 368.2,244.7 369.3,244.2 370.4,243.6 371.4,243.0 372.5,242.5 373.5,241.8 374.4,241.0 375.4,240.3 376.5,239.7 377.7,239.4 378.9,238.9 379.9,238.3 381.0,237.6 382.0,237.0 383.2,236.5 384.3,236.0 385.4,235.5 386.6,235.1 387.7,234.7 388.8,234.2 389.8,233.4 390.8,232.6 391.9,232.0 393.1,231.5 394.2,230.9 395.3,230.2 396.4,229.6 397.5,229.0 398.5,228.3 399.5,227.5 400.7,227.0 401.9,226.6 403.1,226.1 404.1,225.3 405.1,224.5 406.7,224.4 408.3,224.4 410.0,224.4 410.9,225.3 411.9,226.3 412.9,227.1 414.1,227.7 415.1,228.6 416.0,229.6 417.1,230.6 418.3,230.0 419.4,229.4 420.6,228.7 421.7,228.0 422.8,227.3 423.9,226.6 425.2,226.2 426.5,225.8 427.3,224.9 428.1,223.9 429.0,222.9 429.9,222.1 430.9,221.3 431.8,220.4 432.7,219.6 433.5,218.6" fill="none" stroke="#2222ee" stroke-width="1.15" stroke-linejoin="round"/>
<polyline points="221.1,325.4 222.3,324.8 223.6,324.4 225.0,324.3 226.1,323.4 227.0,322.4 228.4,322.2 229.7,321.9 230.8,321.1 231.9,320.5 233.0,319.8 234.0,319.0 235.3,318.8 236.8,319.0 237.9,318.6 239.0,317.8 240.2,317.4 241.3,316.8 242.4,316.2 243.5,315.7 244.6,315.0 245.3,313.8 246.2,312.9 247.5,312.7 248.8,312.4 249.8,311.7 250.8,310.8 251.8,310.0 252.7,309.0 253.9,308.4 255.2,307.9 256.0,306.8 256.7,305.5 257.8,304.9 259.1,304.3 260.4,304.7 261.7,305.1 263.0,305.0 264.4,304.6 265.7,305.0 266.9,305.6 268.3,305.4 269.6,305.2 270.8,305.3 271.9,304.6 273.3,304.4 274.7,304.3 275.8,303.5 276.7,302.4 278.0,302.0 279.3,301.5 280.4,300.8 281.5,300.1 282.4,299.2 283.2,298.1 284.4,297.6 285.8,297.5 286.9,296.8 287.7,295.7 288.7,294.9 289.9,294.6 291.0,294.3 292.3,294.3 293.5,294.2 294.7,293.5 295.9,293.3 297.0,293.9 298.1,294.7 299.3,295.0 300.4,295.2 301.6,295.4 302.9,295.2 304.1,295.3 305.2,295.9 306.5,296.4 307.6,295.7 308.7,295.2 309.9,295.1 311.1,295.1 312.3,295.0 313.6,295.2 314.8,294.9 315.8,294.0 316.9,293.5 318.2,293.7 319.5,293.2 320.6,292.5 321.7,291.9 322.9,291.1 324.1,290.8 325.4,291.0 326.7,291.2 327.8,290.5 328.8,289.7 330.0,289.4 331.2,289.2 332.4,288.9 333.7,288.8 335.0,288.5 336.1,287.8 337.4,287.6 338.9,288.0 340.2,287.9 341.4,287.3 342.6,286.8 343.7,286.2 344.8,285.6 346.1,285.7 347.4,285.6 348.5,284.8 349.6,284.1 350.9,284.1 352.1,284.1 353.3,283.7 354.5,283.5 355.6,282.8 356.6,281.8 357.8,281.5 359.2,281.6 360.4,281.3 361.5,280.7 362.6,280.4 363.8,280.2 365.0,279.9 366.3,280.0 367.5,280.0 368.6,279.3 369.6,278.3 370.8,278.1 372.1,278.0 373.3,277.7 374.5,277.3 375.7,277.0 376.8,276.3 377.9,275.9 379.3,276.1 380.6,275.9 381.6,275.0 382.6,274.2 383.8,273.8 384.9,273.4 386.1,273.0 387.5,272.7 388.4,271.9 389.3,270.9 390.5,270.5 391.9,270.3 392.9,269.6 393.9,268.8 394.9,268.0 395.8,267.0 396.9,266.3 398.3,266.2 399.4,265.8 400.5,265.0 401.6,264.4 402.9,264.1 404.1,263.7 405.3,263.3 406.5,262.9 407.5,261.8 408.5,260.9 409.9,260.9 411.2,260.8 412.4,260.2 413.5,259.7 414.7,259.3 415.8,258.7 417.1,258.5 418.4,258.5 419.5,257.8 420.2,256.9 421.1,255.8 422.3,254.8 423.3,253.7 424.4,252.8 425.0,251.6 425.5,250.4 426.5,249.6 427.7,248.9 428.2,247.7 428.7,246.5 429.2,245.2 429.7,244.0 430.6,242.9 431.7,241.9 432.1,240.6 432.2,239.1 433.0,238.0 433.5,236.8 433.7,235.5 433.9,234.2 433.9,232.9 433.8,231.5 434.4,230.4 435.0,229.0 434.8,227.7 434.3,226.5 434.2,225.2 434.0,223.9 433.9,222.5 434.1,221.2 433.6,219.9 433.5,218.6" fill="none" stroke="#2222ee" stroke-width="1.15" stroke-linejoin="round"/>
<polyline points="323.0,291.4 322.7,292.7 322.2,294.0 322.8,295.4 323.7,296.7 322.9,298.0 322.8,299.4 323.4,300.7 323.3,301.9 323.6,303.2 322.9,304.7 322.6,306.0 324.0,307.1 324.5,308.4 324.3,309.7 324.6,311.0 324.6,312.3 325.3,313.6 325.6,314.8 324.6,316.3 324.7,317.5 325.7,318.6 326.2,319.7 326.7,320.8 326.8,322.0 326.4,323.4 327.0,324.4 327.9,325.5 327.4,326.8 327.1,328.1 327.3,329.4 327.7,330.7 328.8,331.9 328.8,333.2 328.0,334.7 328.6,335.9 329.0,337.2 328.7,338.6 328.8,339.7 327.3,339.8 326.5,341.2 325.8,342.7 324.2,342.7 322.9,343.2 321.8,343.9 320.7,344.6 320.6,345.9 319.5,346.8 318.8,347.9 319.5,349.3 319.7,350.6 319.2,351.7 318.8,352.9 318.2,354.0" fill="none" stroke="#2222ee" stroke-width="1.15" stroke-linejoin="round"/>
<polyline points="328.6,340.4 329.8,340.9 331.0,341.5 332.5,341.5 333.5,342.3 333.9,344.0 335.1,344.6 336.4,345.0 337.3,345.9 338.3,346.7 339.1,347.8 340.3,348.4 342.1,348.2 342.9,349.3 343.5,350.7 344.5,351.5 345.5,352.3 346.8,352.7 347.8,353.5 348.8,354.7 350.1,354.5 351.6,354.0 352.7,354.5 353.8,355.2 354.9,356.0 355.9,356.8 357.3,356.4 358.6,356.5 359.4,357.6 360.5,358.3 361.8,358.7 362.9,359.4 364.0,360.1 364.3,361.7 364.9,363.0 366.5,363.2 367.5,364.0 368.3,365.1 369.3,365.9 370.2,366.6 370.0,368.0 369.5,369.2 367.9,369.5 366.7,370.1 366.3,371.4 365.7,372.4 365.2,373.6 364.4,374.5 363.1,375.1 362.8,376.4 362.9,377.4 362.1,378.6 361.4,379.9 361.1,381.2 361.0,382.5 361.8,383.9 361.4,385.2 360.6,386.4 361.2,387.8 361.1,388.7 362.0,389.6 362.9,390.6 363.4,392.0 364.7,392.5 366.3,392.3 367.1,393.4 368.0,394.4 369.2,394.9 370.1,395.7 371.4,396.2 372.1,397.3 372.3,399.0 373.5,399.6 374.9,399.8 375.9,400.7 376.9,401.4 377.6,402.5 378.5,403.5 380.1,403.3 381.1,404.4 381.7,406.0 383.0,406.4 384.4,406.8 385.9,406.9 386.8,408.0" fill="none" stroke="#2222ee" stroke-width="1.15" stroke-linejoin="round"/>
<polyline points="424.0,252.5 424.2,253.8 423.9,255.0 423.9,256.3 423.5,257.5 421.9,258.4 421.2,259.5 422.0,261.0 422.5,262.4 422.0,263.5 422.1,264.8 422.2,266.1 422.0,267.4 422.9,268.6 423.6,269.9 422.6,271.3 422.5,271.5 421.5,272.6 420.6,273.7 419.5,274.6 418.9,274.6 418.9,276.0 418.6,277.5 419.8,278.4 421.0,279.3 420.8,280.8 420.5,282.3 420.9,283.5 421.3,284.7 422.3,285.7 423.7,287.5 422.7,288.3 421.0,288.3 420.1,289.2 419.7,290.6 418.8,291.4 417.7,292.1 416.7,292.9 415.1,293.6 414.5,294.7 415.4,296.2 416.2,297.6 415.6,298.7 414.7,299.7 414.5,300.9 414.2,302.1 413.9,303.3 414.2,304.6 413.8,305.9 412.1,306.2 411.1,307.0 411.3,308.6 411.3,310.1 410.6,311.1 410.0,312.1 408.9,313.1 407.4,312.9 406.3,313.8 405.6,315.2 404.1,315.2 402.4,314.9 401.4,315.7 400.4,316.8 399.6,317.7 399.5,319.1 398.6,320.0 396.9,320.3 396.1,321.2 396.1,322.7 395.6,323.8 394.5,324.8 395.4,325.6 396.3,326.4 397.2,327.2 398.7,327.2 400.4,326.8 401.2,327.9 401.5,329.5 402.2,330.6 403.2,331.5 403.9,332.6 405.0,333.4 405.6,334.6 405.6,336.2 406.8,337.0 408.8,337.2 409.5,338.1 409.9,339.4 410.5,340.5 411.1,341.7 411.7,342.8 413.0,343.2 414.3,343.6 414.6,345.0 414.8,346.4 416.2,346.9 417.7,346.8 418.9,347.3 420.0,347.8 420.9,348.7 421.4,350.4 422.3,351.3 424.0,351.0 425.2,351.3 425.9,352.6 426.9,353.4 428.1,353.7 429.0,354.6 430.3,355.2 431.6,355.8 431.6,357.5 431.4,359.2 432.4,359.8 433.4,360.8 433.6,362.0 434.0,363.1 434.3,364.3 434.2,365.6 434.7,366.7 435.7,368.7 434.6,369.4 433.0,368.8 431.5,368.7 430.4,369.2 429.2,369.7 428.2,370.6 427.3,371.7 425.8,371.5 424.4,371.4 423.6,372.8 422.7,374.0 421.3,374.1 420.0,374.1 418.6,374.1 417.2,373.8 416.1,374.5 415.4,376.1 414.5,376.2 413.3,377.2 413.0,378.4 413.3,379.7 413.1,381.0 413.0,382.2 412.7,383.4 411.3,384.2 409.9,385.1 410.3,386.6 410.7,388.1 410.0,389.2 409.3,390.3 408.9,391.5 408.2,392.6 408.1,393.9 408.4,395.4 407.4,396.1 406.0,397.7 406.4,399.0 407.2,400.3 407.7,401.6 408.3,402.9 408.2,404.3 408.1,405.1 406.6,406.0 405.1,406.7 403.7,405.6 402.2,405.7" fill="none" stroke="#2222ee" stroke-width="1.15" stroke-linejoin="round"/>
<polyline points="433.0,359.7 434.3,359.7 435.7,360.0 437.0,360.1 438.3,360.5 439.7,360.7 441.1,360.3 442.4,360.2 443.6,360.4 444.8,360.6 446.0,360.5 447.2,360.6 448.4,360.4 449.6,360.0 450.8,360.0 452.2,360.3 453.2,359.7 454.1,358.7 455.2,358.0 456.3,357.5 457.4,357.1 458.7,356.8 459.9,356.5 460.9,355.7 461.9,354.8 463.1,354.5 464.3,354.2 465.3,353.5 466.4,352.8 467.4,352.1 468.4,351.3 469.6,350.8 471.1,350.8 472.3,350.3 473.3,349.3 474.4,348.6 475.7,348.2 476.8,347.5 478.0,347.0 479.2,346.7 480.3,346.0 481.5,345.6 482.8,345.8" fill="none" stroke="#2222ee" stroke-width="1.15" stroke-linejoin="round"/>
<polyline points="324.3,417.3 325.5,417.5 326.6,417.9 327.8,418.2 328.8,419.1 330.2,418.6 331.6,418.2 332.3,420.0 332.9,421.0 334.4,421.2 335.8,421.7 337.5,421.7 338.2,423.2 339.0,424.5 341.0,424.1 341.7,425.3 342.2,426.9 343.0,427.9 343.9,428.9 345.9,428.4 347.3,428.7 347.5,430.7 348.7,431.3 350.1,431.3 351.1,432.0 352.3,432.5 353.0,434.2 354.1,434.9 356.0,433.6 357.3,433.8 358.1,435.1 359.3,434.8 360.6,434.9 361.7,434.1 362.9,433.4 364.5,434.8 365.8,434.8 366.7,433.1 367.8,432.4 369.0,431.9 370.7,432.2 370.7,434.0 372.7,434.3 373.4,435.5 373.3,437.5 374.5,438.2 375.4,439.1 376.9,439.6 377.9,440.5 377.0,442.3 377.3,443.6 378.8,444.1 379.0,445.3 380.2,446.1 381.3,446.8 382.4,447.5 384.2,446.3 385.7,446.0 386.5,447.9 387.8,447.7 389.0,447.2 390.1,446.8 391.2,445.9 391.9,446.2 391.9,447.6 394.1,448.0 395.2,448.9 395.1,450.4 395.2,451.7 395.0,453.2 396.1,454.1 396.7,454.5 398.1,455.6 399.3,455.8 400.3,454.5 401.4,453.8 402.6,453.2 403.8,453.2 405.2,454.6 406.1,454.5 407.6,453.4 408.8,454.0 409.9,454.8 411.2,454.8 412.5,454.9 414.0,453.9 415.3,453.8 416.2,455.9 417.4,456.5 418.7,455.9 420.0,456.1 421.3,456.1 422.4,456.8 423.6,457.5 425.2,456.0 426.5,455.9 427.5,457.6 428.6,458.3 429.8,458.8 431.2,458.6 432.6,457.8 433.7,459.1 434.8,459.8 436.4,458.5 437.7,458.6 438.8,459.3 440.0,460.2 441.6,461.1 442.6,459.8 443.7,458.4 445.2,459.2 446.4,458.9 447.6,458.1 448.8,457.5 450.0,456.7 451.5,457.9 453.1,458.8 454.0,457.0" fill="none" stroke="#2222ee" stroke-width="1.15" stroke-linejoin="round"/>
</g>
<polygon points="10.6,154.5 33.1,142 61.5,123.7 84,109.6 95.8,103.6 97,98.4 102.9,97.7 104,102.5 122.7,96.6 123.7,99.8 125.4,103.7 123.2,106.4 121.6,109.1 122.7,111.9 123.7,116.2 125.9,119 129.2,120.1 131.4,123.4 142.3,122.8 141.8,114.1 145.6,113 150,112.4 152.2,110.2 158.7,113.5 165.3,115.7 175.2,119 179,121.2 179.5,131 186.1,131 191.6,128.8 192.7,132.7 195.9,131 198.1,129.4 202.5,128.3 208,124.5 213.4,125 228.7,114.1 238.6,100.9 235.9,96.6 251.7,95.5 253,100.2 258.9,100.8 264.8,98.5 264.2,94.3 259.5,87.2 258.3,81.3 264.2,77.8 270.7,74.8 279.6,73.6 280.8,75.4 278.4,85.4 284.3,84.9 293.8,86 296.7,81.9 303.3,75.4 308,69.5 311.5,68.9 315.1,70.7 318,73 319.8,77.2 318.6,80.7 316.3,85 310.4,84.9 309.8,87.2 312.7,88.4 321,88.4 325.7,86 328.1,89 331.7,92 335.2,87.2 341.1,81.3 341.7,75.4 344.7,71.8 347,74.2 351.8,76 354.7,83.7 350.6,92 356.5,99 358.9,107.3 362.4,109.7 368.3,107.6 371.8,110.6 373,118.9 387.2,117.7 396.7,118.9 399,115.4 406.1,111.4 410.8,114.2 415.6,118.9 416.7,127.2 427.9,134 437.8,134.9 444.7,135.9 445.6,140.8 449.6,139.9 452.5,141.8 456.5,144.8 452.5,146.8 451.6,151.7 452.5,154.7 448.6,156.6 449.6,161.6 446.6,164.5 444.7,171.4 444.7,177.3 439.7,182.3 443.7,186.2 438.7,190.2 437.8,195.1 431.8,201 427.9,205 429.9,210.9 432.2,214.5 435.8,216.8 436.4,221.6 435.2,227.5 439.3,226.9 442.9,224.5 446.4,222.2 450,226.3 454.7,227.5 457.1,225.7 460.6,225.1 463,227.5 468.9,226.3 476,226.9 480.7,227.5 483.1,233.4 492.2,235.5 497,243.7 501.7,248.5 504,253.2 514.7,254.4 513.5,260.3 507.6,263.8 501.7,271 504,275.7 508.6,280 515.4,281.7 522,282.5 527.1,288.4 528.8,295.1 527.1,306.8 533,313.5 534.6,317.7 528.8,321.1 522,320.2 518.7,325.3 512,330.3 505.3,335.3 502.8,340.4 504.5,345.4 501.1,350.4 498.6,353.8 496.1,357.1 496.9,360.5 500.3,359.6 499.4,356.3 495.2,353.8 491,352.9 486.9,355.4 484.3,354.6 482.7,350.4 475.1,353.8 472.6,359.6 466.7,365 463.8,366.8 459.6,376.9 455.2,385.7 451.7,392 448.1,399 444.6,411.5 448.1,418.6 446.3,425.7 451.7,434.6 457,443.4 460,458 460,473.4 456.7,475.8 452,481.7 446,484.1 440.1,486.5 435.4,487.6 428.3,493.6 421.2,493.6 414.1,495.9 408.2,495.9 403.1,477.3 393.6,471 385.8,472.6 387.3,463.1 382.6,458.4 377.9,456.8 366,455.2 360.5,450.5 358.9,444.2 352.6,439.4 340,433.1 334.3,437 323.7,435.3 322.8,426.4 323.7,419.3 327.2,415.7 326.3,410.4 324.6,406.8 320.1,401.5 314.8,398 315.7,394.4 318.3,387.3 318.3,376.6 322.8,371.3 323.7,367.8 327.2,362.4 326.3,358.9 321.9,357.1 318.3,355.3 316.6,358 311.2,362.4 302.4,369.5 298.8,375.8 299.7,383.7 298.8,391.7 288.2,395.3 277.5,398 273.9,401.5 266.8,404.2 261.5,401.5 253.5,400.6 247.3,398 238.4,399.7 231.3,400.6 231.3,398 225.1,394.4 224.2,387.3 226.9,382 233.1,379.3 236.6,376.6 233.1,367.8 232.2,363.3 223.3,362.4 224.2,357.1 226.9,350 227.3,347.3 229.7,341 233.6,337.8 235.2,333.9 231.2,330.7 227.3,329.1 228.9,332.3 227.3,336.2 224.1,334.7 224.1,330 221,326 216.2,323.6 211.5,315.7 207.6,315.1 197,317.5 189.9,318.7 178,315.1 169.8,316.3 167.4,324.6 163.8,321 159.1,310.4 160.3,298.6 156.8,289.1 149.7,284.4 137.8,284.4 139,279.7 135.5,277.3 128.4,280.8 121.3,283.2 114.2,280.8 108.3,274.9 107.1,265.5 103.5,251.3 104.7,244.2 102.4,237.1 95.8,233.2 93.4,223.7 89.9,220.2 83.9,221.4 79.2,222.6 73.3,223.7 63.8,229.7 62.7,233.2 56.8,239.1 49.7,234.4 43.7,233.2 39,226.1 34.3,217.8 30.7,213.1 22.5,213.1 16.6,204.8 18.9,196.6 16.6,190.6 17.7,188.3 20.1,181.7 17.2,175.7 13.3,172.6 14.1,169.4 11.7,158.4" fill="none" stroke="#2b2b2b" stroke-width="1.8" stroke-linejoin="round"/>
<ellipse cx="331.7" cy="81.9" rx="2.4" ry="2.9" fill="#262626"/></g>
<g><g transform="translate(640.4,0)"><polygon points="10.6,154.5 33.1,142 61.5,123.7 84,109.6 95.8,103.6 97,98.4 102.9,97.7 104,102.5 122.7,96.6 123.7,99.8 125.4,103.7 123.2,106.4 121.6,109.1 122.7,111.9 123.7,116.2 125.9,119 129.2,120.1 131.4,123.4 142.3,122.8 141.8,114.1 145.6,113 150,112.4 152.2,110.2 158.7,113.5 165.3,115.7 175.2,119 179,121.2 179.5,131 186.1,131 191.6,128.8 192.7,132.7 195.9,131 198.1,129.4 202.5,128.3 208,124.5 213.4,125 228.7,114.1 238.6,100.9 235.9,96.6 251.7,95.5 253,100.2 258.9,100.8 264.8,98.5 264.2,94.3 259.5,87.2 258.3,81.3 264.2,77.8 270.7,74.8 279.6,73.6 280.8,75.4 278.4,85.4 284.3,84.9 293.8,86 296.7,81.9 303.3,75.4 308,69.5 311.5,68.9 315.1,70.7 318,73 319.8,77.2 318.6,80.7 316.3,85 310.4,84.9 309.8,87.2 312.7,88.4 321,88.4 325.7,86 328.1,89 331.7,92 335.2,87.2 341.1,81.3 341.7,75.4 344.7,71.8 347,74.2 351.8,76 354.7,83.7 350.6,92 356.5,99 358.9,107.3 362.4,109.7 368.3,107.6 371.8,110.6 373,118.9 387.2,117.7 396.7,118.9 399,115.4 406.1,111.4 410.8,114.2 415.6,118.9 416.7,127.2 427.9,134 437.8,134.9 444.7,135.9 445.6,140.8 449.6,139.9 452.5,141.8 456.5,144.8 452.5,146.8 451.6,151.7 452.5,154.7 448.6,156.6 449.6,161.6 446.6,164.5 444.7,171.4 444.7,177.3 439.7,182.3 443.7,186.2 438.7,190.2 437.8,195.1 431.8,201 427.9,205 429.9,210.9 432.2,214.5 435.8,216.8 436.4,221.6 435.2,227.5 439.3,226.9 442.9,224.5 446.4,222.2 450,226.3 454.7,227.5 457.1,225.7 460.6,225.1 463,227.5 468.9,226.3 476,226.9 480.7,227.5 483.1,233.4 492.2,235.5 497,243.7 501.7,248.5 504,253.2 514.7,254.4 513.5,260.3 507.6,263.8 501.7,271 504,275.7 508.6,280 515.4,281.7 522,282.5 527.1,288.4 528.8,295.1 527.1,306.8 533,313.5 534.6,317.7 528.8,321.1 522,320.2 518.7,325.3 512,330.3 505.3,335.3 502.8,340.4 504.5,345.4 501.1,350.4 498.6,353.8 496.1,357.1 496.9,360.5 500.3,359.6 499.4,356.3 495.2,353.8 491,352.9 486.9,355.4 484.3,354.6 482.7,350.4 475.1,353.8 472.6,359.6 466.7,365 463.8,366.8 459.6,376.9 455.2,385.7 451.7,392 448.1,399 444.6,411.5 448.1,418.6 446.3,425.7 451.7,434.6 457,443.4 460,458 460,473.4 456.7,475.8 452,481.7 446,484.1 440.1,486.5 435.4,487.6 428.3,493.6 421.2,493.6 414.1,495.9 408.2,495.9 403.1,477.3 393.6,471 385.8,472.6 387.3,463.1 382.6,458.4 377.9,456.8 366,455.2 360.5,450.5 358.9,444.2 352.6,439.4 340,433.1 334.3,437 323.7,435.3 322.8,426.4 323.7,419.3 327.2,415.7 326.3,410.4 324.6,406.8 320.1,401.5 314.8,398 315.7,394.4 318.3,387.3 318.3,376.6 322.8,371.3 323.7,367.8 327.2,362.4 326.3,358.9 321.9,357.1 318.3,355.3 316.6,358 311.2,362.4 302.4,369.5 298.8,375.8 299.7,383.7 298.8,391.7 288.2,395.3 277.5,398 273.9,401.5 266.8,404.2 261.5,401.5 253.5,400.6 247.3,398 238.4,399.7 231.3,400.6 231.3,398 225.1,394.4 224.2,387.3 226.9,382 233.1,379.3 236.6,376.6 233.1,367.8 232.2,363.3 223.3,362.4 224.2,357.1 226.9,350 227.3,347.3 229.7,341 233.6,337.8 235.2,333.9 231.2,330.7 227.3,329.1 228.9,332.3 227.3,336.2 224.1,334.7 224.1,330 221,326 216.2,323.6 211.5,315.7 207.6,315.1 197,317.5 189.9,318.7 178,315.1 169.8,316.3 167.4,324.6 163.8,321 159.1,310.4 160.3,298.6 156.8,289.1 149.7,284.4 137.8,284.4 139,279.7 135.5,277.3 128.4,280.8 121.3,283.2 114.2,280.8 108.3,274.9 107.1,265.5 103.5,251.3 104.7,244.2 102.4,237.1 95.8,233.2 93.4,223.7 89.9,220.2 83.9,221.4 79.2,222.6 73.3,223.7 63.8,229.7 62.7,233.2 56.8,239.1 49.7,234.4 43.7,233.2 39,226.1 34.3,217.8 30.7,213.1 22.5,213.1 16.6,204.8 18.9,196.6 16.6,190.6 17.7,188.3 20.1,181.7 17.2,175.7 13.3,172.6 14.1,169.4 11.7,158.4" fill="#fdb96b"/></g>
<g clip-path="url(#clipBE2)">
<polygon points="640,140 700,110 706.5,122.9 712.8,128.4 720.7,133.1 726.2,141 727,152 723.9,158.4 712.8,159.1 705,154.4 697.1,148.9 690.7,146.5 681.3,150.5 671.8,160 662.4,166.2 654.5,169.4 640,172" fill="#bde2ec" />
<polygon points="873.4,112.9 887.6,117.6 897.1,124.7 908.1,132.6 911.3,138.9 908.1,145.2 897.1,153.1 886,159.4 878.1,163.4 871.8,159.4 863.9,153.1 855.3,148.4 856,137.3 857.6,126.3 865.5,118.4" fill="#bde2ec" />
<polygon points="782.1,193.7 788.4,198.4 790.7,206.3 788.4,212.6 782.1,215 775.7,209.4 774.2,203.9 777.3,198.4" fill="#bde2ec" />
<polygon points="876.7,186.2 880.6,192.2 876.7,200 870.8,196.1" fill="#bde2ec" />
<polygon points="923.6,244.2 931.5,239.4 941,242.6 944.1,255.2 936.2,263.1 926.8,266.2 922,256.8" fill="#bde2ec" />
<polygon points="877.9,291.5 884.2,286.8 892.1,289.9 893.6,300.9 887.3,308.8 879.4,305.7 876.3,297.8" fill="#bde2ec" />
<polygon points="898.4,293.1 906.2,288.3 915.7,291.5 914.1,296.2 904.7,297.2" fill="#bde2ec" />
<polygon points="896.6,315.9 904.8,307.6 921.4,310.3 929.7,315.9 935.2,335.2 932.4,349 924.1,355.9 913.1,351.7 906.2,343.4 900.7,329.7" fill="#bde2ec" />
<polygon points="812.2,290.9 819.3,286.2 824,293.3 821.7,302.8 814.6,303.9 811,298" fill="#bde2ec" />
<polygon points="907.6,398.6 915.9,384.8 924.1,373.8 935.2,371 940.7,376.6 947,380 947,420 900,420" fill="#bde2ec" />
<polygon points="1004,200 1014.1,190.8 1022.5,200.8 1027.5,217.6 1040,235.6 1049.5,228.5 1056.6,229.7 1063.6,234.4 1070.7,237.9 1077.8,235.6 1084.9,230.8 1089.7,227.3 1095,215 1200,215 1200,520 945,520 945,420 950,385 957.2,387.6 962.8,383.4 984,376 986,362 980,348 973.8,335 970,320 972,310 978.8,304.1 972.5,297.8 964.6,294.6 958.3,288.3 956.7,275.7 964.6,266.2 978.8,259.9 994.6,253.6 997.7,244.2 994.6,231.5 991.4,222.1 1000.9,206.3" fill="#bde2ec" />
<polygon points="1047,361 1060,350 1078,347.4 1093.5,358.4 1089,373.6 1075.3,381.8 1060,373.6" fill="#fdb96b" />
<polygon points="955,418 963.7,415.5 980.5,415.5 1000.6,423.9 1010.7,430.6 1015.7,444 1015.7,454.1 1007.3,455.8 997.3,444 980.5,437.3 963.7,430.6 955,428" fill="#fdb96b" />
<polygon points="1051,464.2 1064.4,455.8 1087.9,444 1094.6,434 1101.3,447.4 1110,450.8 1120,460 1120,510 1054.3,510 1047.6,481" fill="#fdb96b" />
<polygon points="1129.9,235.6 1120.4,245 1115.7,258 1115.7,274.6 1120.4,286.4 1132.2,291.1 1137.4,294.7 1133.4,300.6 1121.6,308.6 1105.8,314.5 1099.9,324.4 1109.8,334.2 1129.5,336.2 1149.2,328.3 1161.1,322.4 1172.9,318.4 1200,318 1200,230 1140,225" fill="#313594" />
<polygon points="1030.8,392 1037.5,387 1044.2,392 1049.3,407.2 1044.2,410.5 1034.2,405.5" fill="#313594" />
<polygon points="890,60 890,80 904.8,93.1 913.1,101.4 924.2,111.7 935.2,113.1 946.2,109.7 969.7,108.3 997.3,105.5 1000,100 1000,60" fill="#a50026" />
<polygon points="782,114 792.2,110.2 798.7,113.5 805.3,115.7 815.2,119 819,121.2 819.5,131 817.3,131 811.9,133.2 800.9,133.2 793.3,127.7 787.8,121.7 784.5,116.2" fill="#a50026" />
<polygon points="735,250 744.8,242.5 755.5,243.6 757.8,262.6 756.7,274.4 750.7,276.8 747.2,269.7 743.6,250.7" fill="#a50026" />
<polygon points="758,95 763.8,95 763.8,102.8 759.5,102.8" fill="#a50026" />
<g transform="translate(640.4,0)"><polyline points="124.8,119.5 126,128.9 122.5,134.8 126,144.3 117.7,153.7 124.8,159.7 130.7,164.4 131.9,176.2 129.6,185.7 133.1,195.1 133.1,204.6 138.9,212.6 140.5,215.7 137,220 134.2,224.4 143.6,226.8 145.2,233.1 156.2,234.7 165.7,225.2 173.6,225.2 178.3,229.9 184.6,231.5 187.7,236 198.8,233.3 209.8,230.5 215.4,222.2 216.6,211.5 221.3,204.4 223.6,192.6 228.4,178.4 235.5,167.7 259.1,171.3 275.7,173.6 289.9,173.6 306.4,171.3 323,170.1 338.9,161.8 348.4,168.9 355.5,166.6 362.6,171.3 350.7,173.6 346,183.1 355.5,189 366.1,197.3 363.7,209.1 357.8,218.6 355.5,228 357.8,237.5 364.9,237.5 379.1,232.8 390.9,232.8 400.4,231.6 414.6,226.9 424,225.7 431.1,220.9 434.6,228.7 440.5,229.3 444.1,228.7 450,233.4 454.7,235.8 461.8,235.8 465.4,231 463,228" fill="none" stroke="#b5b5b5" stroke-width="1.3" stroke-linejoin="round"/>
<polyline points="246.5,121.5 248.5,133.8 250,150 243,160 235.5,167.7" fill="none" stroke="#b5b5b5" stroke-width="1.3" stroke-linejoin="round"/>
<polyline points="338.9,161.8 346,157.1 352.2,155.9 360,152 368.3,150.8 369.5,146 375.4,146 376.6,137.8 370.6,123.6 371.8,118" fill="none" stroke="#b5b5b5" stroke-width="1.3" stroke-linejoin="round"/>
<polyline points="61.5,216.7 71,215.5 73.3,222.6 63.8,223.7 50.8,226.1 49.7,230.8" fill="none" stroke="#b5b5b5" stroke-width="1.3" stroke-linejoin="round"/>
<polyline points="96.3,225.2 105.8,226.8 113.7,229.9 116,236.2 118.4,237.8" fill="none" stroke="#b5b5b5" stroke-width="1.3" stroke-linejoin="round"/>
<polyline points="244.9,202 256.8,196.1 261.5,204.4 268.6,209.1 269.8,220.9 256.8,225.7 244.9,220.9 240.2,213.8 244.9,202" fill="none" stroke="#b5b5b5" stroke-width="1.3" stroke-linejoin="round"/>
<polyline points="187.7,236 200,242.2 218.9,238.5 228.4,235.4 247.3,236.6 256.8,234.2 271,230.6 280.4,231.8 289.9,228.3 296.9,231.6 304,220.9 318.2,220.9 327.1,225.7 341.3,229.2 346,235.1 357.8,237.5" fill="none" stroke="#b5b5b5" stroke-width="1.3" stroke-linejoin="round"/>
<polyline points="218.9,238.5 221.3,253.1 230.7,255.5 235.5,254.7 247.3,259.5 252,272.5 268.6,271.3 270.9,274.8 282.8,272.5 285.1,268.9 294.6,266.6 306.4,261.8 318.2,259.5 327.7,257.1 340,252.4" fill="none" stroke="#b5b5b5" stroke-width="1.3" stroke-linejoin="round"/>
<polyline points="341.3,229.2 343.6,244.6 341.4,253.6 347.3,267.8 349.7,277.3 359.1,283.2 368.6,291.5 375.7,300.9 380.4,308 394.6,308 399.3,299.8 406.4,300.9 415.9,298.6 423,305.7 432.4,308 440.2,318.6 442.6,325.7 443.7,332.8 461.5,331.6 462.7,323.3 459.1,316.2 470.9,317.4 480.4,322.1 481.6,344.6" fill="none" stroke="#b5b5b5" stroke-width="1.3" stroke-linejoin="round"/>
<polyline points="282.8,272.5 282.8,283.1 286.3,292.6 287.5,302 285.1,313.8 286.3,320.9 275.7,323.3 260.3,325.7 254.4,330.4 244.9,333.9 248.5,337.5 256.8,341 259.1,351.7 259.1,370 259.7,380.2 263.3,392.6 266.8,401.5" fill="none" stroke="#b5b5b5" stroke-width="1.3" stroke-linejoin="round"/>
<polyline points="394.6,308 394.6,317.5 389.9,323.4 394.6,329.3 382.8,338.8 371.5,344.2 380.9,363.1 369.1,369 352.6,367.8 350.2,377.3 340.7,384.4 345.5,393.8 357.3,400.9 358.5,408 347.8,415.1 340.7,426.9" fill="none" stroke="#b5b5b5" stroke-width="1.3" stroke-linejoin="round"/>
<polyline points="34.3,140.3 35.1,141.3 36.2,141.8 37.4,142.2 38.5,142.8 39.6,143.4 40.6,144.0 41.5,144.9 42.6,145.5 43.9,145.7 45.0,146.5 45.7,147.7 46.5,148.7 47.5,149.5 48.5,150.4 49.8,151.0 50.6,152.0 50.8,153.4 51.2,154.6 52.2,155.7 52.1,157.0 51.7,158.1 51.3,159.2 50.9,160.4 50.3,161.7 50.6,162.8 51.4,163.9 51.7,165.1 51.6,166.3 51.7,167.5 52.1,168.7 51.4,169.8 50.7,170.8 50.0,171.9 49.1,172.7 47.9,173.4 47.3,174.5 47.1,175.8 46.4,176.8 45.6,177.8 44.9,178.8 44.0,179.7 43.2,180.6 42.6,181.9 41.5,182.3 40.2,182.1 38.9,181.9 37.8,182.3 36.6,182.8 35.5,183.1 34.3,183.6 33.1,183.8 31.9,183.7 30.6,183.8 29.7,184.7 28.7,185.4 27.4,185.6 26.2,185.9 25.1,186.4 24.0,186.9 23.0,187.7 22.2,188.7 21.0,189.2 19.7,189.3 18.6,189.8 17.6,190.6 16.5,191.0" fill="none" stroke="#2222ee" stroke-width="1.15" stroke-linejoin="round"/>
<polyline points="88.6,220.1 89.7,219.3 90.4,217.8 91.6,217.4 92.9,217.0 94.2,216.8 95.5,216.5 96.4,215.3 97.6,215.0 99.1,215.2 100.2,214.2 100.8,213.0 101.5,211.9 102.2,210.9 103.7,210.6 104.8,210.0 105.2,208.6 106.1,207.7 107.4,207.2 108.2,206.3 109.1,205.4 109.5,204.1 110.0,202.8 111.5,202.5 112.8,202.0 113.3,200.8 114.2,199.9 115.1,199.1 116.1,198.4 117.3,198.0 117.9,196.8 118.2,195.3 119.4,194.8 120.7,194.5 121.7,193.8 122.7,193.1 123.4,192.0 124.1,191.0 125.4,190.7 126.5,190.0 126.8,188.6 127.6,187.6 128.6,187.0 129.7,186.4 131.0,186.2 132.0,185.6 132.8,184.3 134.0,184.0 135.3,183.9 136.2,183.0 137.3,182.2 138.2,181.3 139.3,180.7 140.9,181.1 142.1,180.8 142.8,179.6 144.0,179.0 145.1,178.5 146.2,178.0 147.5,177.6 147.8,176.2 148.2,175.0 149.7,174.7 150.9,174.1 151.5,173.0 152.2,172.0 152.7,170.8 153.4,169.8 154.5,169.5 155.6,168.8 156.5,167.6 157.8,167.6 159.2,167.7 160.4,167.6 161.7,167.4 162.7,166.3 163.7,165.5 165.1,165.8 166.3,165.4 167.3,164.4 168.9,164.3 169.4,165.5 169.3,166.9 169.1,168.3 170.4,169.1 170.7,169.9 172.1,169.7 173.2,169.1 174.5,168.6 175.5,167.7 176.5,166.8 177.6,167.0 177.9,168.3 179.2,169.2 179.9,170.3 180.7,171.3 181.1,172.6 181.3,174.0 182.7,174.8 182.7,175.8 184.1,176.4 185.3,176.2 186.4,175.9 187.5,175.3 188.6,174.4 189.8,174.5 191.1,174.9 192.2,174.2 193.3,173.6 194.6,173.8 196.1,173.8 197.6,174.1 198.9,173.2 200.2,172.2 201.7,172.7 203.0,172.7 204.3,172.5 205.6,172.5 206.9,172.3 208.2,173.1 210.0,173.1 210.3,171.4 211.2,170.4 212.4,169.8 213.5,169.1 214.8,168.5 215.4,167.2 216.6,166.3 217.9,167.6 219.3,167.4 220.8,167.1 222.3,166.9 223.4,167.3 225.0,167.5 226.0,166.6 227.0,165.6 228.5,165.6 229.7,165.1 231.1,164.3 230.7,162.8 230.2,161.3 231.4,160.1 231.8,158.7 231.6,157.3 231.9,155.9 233.0,155.0 234.4,154.5 235.2,153.4 235.5,151.6 237.1,151.1 238.4,151.3 239.6,151.2 240.9,151.2 242.1,150.5 243.3,150.5 244.7,151.1 245.8,150.4 247.0,149.5 247.8,149.8 248.2,148.6 249.0,147.4 249.5,146.1 248.8,144.7 249.3,143.4 250.1,142.2 249.9,140.9 249.8,139.5 249.6,138.2 249.9,136.9 251.0,136.1 251.8,135.2 252.4,133.9 253.5,133.3 254.4,132.5 255.4,131.7 256.4,130.9 256.7,129.4 257.7,128.5 259.3,128.5 260.2,127.0 258.9,126.6 257.7,126.2 256.4,125.9 255.5,124.8 254.3,124.2 252.7,124.5 251.6,123.7 250.7,122.6 249.6,121.8 248.9,121.6 248.4,120.3 248.4,119.1 249.3,118.0 249.5,116.8 249.2,115.8 248.4,114.8 247.7,113.8 247.4,112.5 247.3,111.0 246.1,110.4 244.8,109.8 244.5,108.5 243.8,107.4 243.0,106.5 242.2,105.5 241.0,104.8 240.6,103.6 240.8,101.9 239.4,101.4" fill="none" stroke="#2222ee" stroke-width="1.15" stroke-linejoin="round"/>
<polyline points="127.9,281.1 127.5,279.8 127.2,278.5 127.8,277.3 128.3,276.1 128.5,274.9 128.8,273.6 128.7,272.3 128.3,271.0 128.5,269.8 129.1,268.6 129.1,267.2 128.0,266.5 127.2,265.6 126.6,264.6 126.0,263.5 125.5,262.3 125.0,261.2 123.9,260.5 122.7,259.9 122.1,258.9 121.6,257.7 120.8,256.8 120.0,255.9 119.2,254.9 118.8,253.7 118.8,252.4 119.3,251.1 119.5,249.8 118.8,248.6 118.4,247.3 118.3,246.1 118.2,244.8 118.2,243.5 118.3,242.2 117.9,241.0 117.7,239.3 118.7,238.0 119.5,237.0 119.9,235.7 120.3,234.5 120.7,233.3 121.2,231.9 122.5,231.5 123.7,231.0 124.5,229.8 125.3,228.8 126.5,228.3 127.7,227.7 128.8,227.0 129.9,226.3 130.6,225.2 131.3,224.0 132.4,223.3 133.6,222.9 134.5,222.1 135.3,221.1 136.3,220.4 137.2,219.6 138.2,218.8 139.5,218.4 140.5,217.8 141.1,216.5 141.7,215.3 142.8,214.7 144.0,214.2 145.0,213.5 146.1,213.0 147.1,212.2 147.9,211.2 149.0,210.6 150.4,210.5 151.4,209.8 152.1,208.6 152.9,207.7 153.6,206.6 154.4,205.6 155.5,204.7 156.5,203.8 156.9,202.5 157.6,201.3 158.8,200.6 159.7,199.7 160.4,198.5 161.1,197.3 161.5,196.0 162.0,195.4 162.1,194.1 162.0,192.8 161.3,191.8 160.6,190.8 160.3,189.6 160.0,188.5 159.5,187.5 160.5,186.6 161.1,185.4 161.3,183.9 162.1,182.8 163.4,182.1 164.2,181.1 165.0,180.1 165.8,179.1 166.4,178.0 167.2,177.0 168.3,176.4 169.2,175.5 169.5,174.1 169.9,173.1 170.4,171.7 170.9,170.3" fill="none" stroke="#2222ee" stroke-width="1.15" stroke-linejoin="round"/>
<polyline points="216.6,168.3 216.8,169.5 216.8,170.7 216.4,171.9 216.1,173.1 216.2,174.3 216.3,175.5 216.4,176.7 216.5,177.9 216.6,179.1 216.4,180.3 216.0,181.5 215.8,182.7 215.9,183.9 216.1,185.1 216.0,186.3 216.0,187.6 216.2,188.8 216.3,190.1 216.5,191.4 216.9,192.6 217.5,193.8 217.7,195.0 217.5,196.3 217.5,197.6 217.8,198.9 218.1,200.1 217.4,201.1 216.7,202.2 216.1,203.2 215.2,204.2 214.4,205.1 213.9,206.3 213.5,207.5 212.8,208.7 211.7,209.3 210.6,209.9 209.5,210.6 208.5,211.3 207.4,212.0 206.6,213.0 205.6,213.8 204.5,214.4 203.3,214.9 202.4,215.8 201.6,216.8 200.7,217.7 199.8,218.4 198.9,219.2 197.8,219.9 196.7,220.4 195.7,221.1 194.9,222.1 194.1,223.1 193.1,223.8 192.0,224.4 191.1,225.2 190.3,226.1 189.3,226.9 188.5,227.8 187.7,228.7 186.8,229.5 185.6,230.0 184.8,231.0 184.4,232.2 184.2,233.4 183.8,234.6 183.3,235.7 182.9,236.9 182.4,238.0 181.8,239.1 181.4,240.3 181.3,241.6 181.0,242.8 180.2,243.9 179.5,244.9 179.0,246.0 178.6,247.2 178.1,248.3 177.8,249.5 177.5,250.8 177.0,251.9 176.3,252.9 175.8,254.1 175.6,255.4 175.4,256.6 174.7,257.8 173.4,257.9 172.2,258.1 170.9,258.2 169.7,258.3 168.5,258.7 167.4,259.4 166.2,259.6 164.9,259.6 163.7,259.8 162.5,260.2 161.3,260.6 160.1,260.9 158.9,261.2 157.7,261.5 156.4,261.4 155.0,261.4 153.9,262.0 152.9,262.8 151.8,263.3 150.6,263.7 149.4,264.1 148.3,264.6 147.1,265.0 146.0,265.5 144.9,266.1 143.8,266.7 142.6,266.9 141.4,267.3" fill="none" stroke="#2222ee" stroke-width="1.15" stroke-linejoin="round"/>
<polyline points="174.6,257.6 175.8,258.0 176.7,258.8 177.6,259.7 178.6,260.3 179.7,260.8 180.8,261.3 181.8,262.0 182.8,262.7 183.8,263.4 184.6,264.3 185.5,265.2 186.6,265.7 187.9,266.0 188.9,266.5 189.9,267.4 190.8,268.1 191.9,268.7 192.9,269.3 193.9,270.0 193.5,271.2 193.1,272.4 192.3,273.4 191.4,274.3 190.8,275.4 190.5,276.6 190.1,277.8 189.6,278.9 189.1,280.0 188.4,281.1" fill="none" stroke="#2222ee" stroke-width="1.15" stroke-linejoin="round"/>
<polyline points="248.6,149.5 249.5,150.4 250.1,151.5 251.0,152.3 252.2,152.8 253.2,153.5 254.1,154.4 255.0,155.2 255.9,156.0 256.8,156.9 258.0,157.3 259.3,157.6 260.1,158.5 260.8,159.7 261.8,160.4 262.8,161.1 263.7,161.8 264.3,163.0 264.8,164.1 264.8,165.5 265.2,166.7 266.2,167.6 266.9,168.7 267.1,170.0 267.4,171.2 267.7,172.5 267.9,173.7 268.6,174.8 269.3,175.9 269.6,177.2 269.6,178.5 270.3,179.6 271.0,180.8 270.4,181.9 269.8,183.0 269.0,184.0 267.8,184.8 267.0,185.8 266.7,187.2 266.0,188.3 265.1,189.2 264.4,190.2 263.7,191.4 263.2,192.4 262.9,193.7 262.5,194.8 261.5,195.7 260.5,196.5 260.0,197.6 259.7,198.8 259.1,199.8 258.5,200.9 257.9,202.0 257.1,202.9 256.5,203.9 256.4,205.2 256.0,206.4 255.1,207.3 254.2,208.2 253.6,209.2 253.0,210.2 252.4,211.3 252.1,212.5 251.6,213.6 250.7,214.5 250.0,215.5 249.8,216.8 249.4,217.9 248.7,218.9 248.0,219.9 247.2,220.8 246.2,221.7 245.6,222.8 245.3,224.2 244.5,225.1 243.5,226.0 242.8,227.1 242.2,228.2 241.5,229.3 240.9,230.4 240.1,231.4 238.9,232.1 238.0,233.0 237.7,234.4 237.1,235.5 236.3,236.5 235.5,237.5 234.6,238.3 233.5,239.0 232.8,240.0 232.0,241.0 230.8,241.5 229.5,241.9 228.6,242.7 227.8,243.7 227.0,244.6 226.2,245.5 225.3,246.4 224.1,246.9 223.1,247.6 222.4,248.7 221.6,249.6 220.5,250.3 219.5,251.1 218.6,252.0 217.7,252.9 217.1,254.0 216.6,255.3 215.7,256.1 214.5,256.8 213.8,257.8 213.2,258.8 213.3,260.1 213.4,261.4 213.4,262.8 213.2,264.1 213.5,265.4 214.3,266.6 214.4,267.8 215.2,268.8 216.3,269.7 217.3,270.5 218.4,271.4 219.6,272.0 220.4,273.1 221.1,274.4 222.5,274.8" fill="none" stroke="#2222ee" stroke-width="1.15" stroke-linejoin="round"/>
<polyline points="263.9,161.7 264.6,162.8 265.3,163.9 266.4,164.7 267.6,165.3 268.5,166.2 269.3,167.3 270.2,168.2 271.1,169.0 272.0,170.0 273.0,170.8 274.1,171.5 275.0,172.5 275.6,173.8 276.8,174.4 278.0,174.6 279.2,174.7 280.4,175.1 281.6,175.4 282.8,175.7 284.0,176.2 285.1,176.8 286.3,177.0 287.6,177.1 288.8,177.4 289.9,178.1 291.0,178.7 292.2,179.1 293.3,179.4 294.5,179.7 295.7,180.2 296.8,180.7 297.7,181.5 298.6,182.4 299.6,183.1 300.8,183.5 301.9,184.3 301.7,185.6 301.5,186.9 301.3,188.1 301.0,189.4 300.8,190.7 301.1,192.0 301.3,193.3 301.1,194.6 300.8,195.8 300.7,197.1 300.7,198.4 300.5,199.7 300.3,200.9 300.0,202.1 299.5,203.2 298.8,204.3 298.4,205.5 298.4,206.7 298.4,208.0 298.1,209.2 297.7,210.3 297.3,211.5 296.9,212.7 296.4,213.8 296.2,215.0 296.1,216.2 295.8,217.4 295.1,218.5 294.5,219.6 294.3,220.9 294.4,222.2 294.4,223.6 294.4,224.9 294.3,226.3 293.9,227.6 293.5,228.9 293.5,230.3 293.6,231.7 292.6,232.6 291.6,233.5 290.8,234.5 290.0,235.5 289.2,236.5 288.6,237.6 288.0,238.9 287.1,239.8 286.0,240.6 285.1,241.5 284.4,242.6 283.7,243.6 282.8,244.6 282.0,245.6 281.2,246.5 280.2,247.4 279.4,248.4 278.9,249.6 278.4,250.8 277.5,251.7 276.5,252.6 275.6,253.5 274.8,254.5 274.0,255.4 273.2,256.5 272.6,257.6 271.7,258.5 270.7,259.2 269.7,260.0 268.8,261.1 267.9,262.1 266.9,262.8 265.8,263.6 264.7,264.3 263.5,264.9 262.4,265.6 261.5,266.6" fill="none" stroke="#2222ee" stroke-width="1.15" stroke-linejoin="round"/>
<polyline points="301.7,184.4 303.0,184.2 304.2,183.9 305.3,183.3 306.5,182.7 307.7,182.5 309.0,182.3 310.3,182.2 311.5,181.8 312.7,181.5 313.9,181.2 315.1,180.9 316.3,180.5 317.5,180.2 318.8,180.1 320.1,179.9 321.2,179.4 322.3,178.7 323.5,178.2 324.7,177.8 325.9,177.5 327.1,177.1 328.3,176.8 329.5,176.6 330.7,176.2 331.8,175.6 333.0,175.1 334.2,174.8 335.3,175.3 336.5,175.7 337.7,175.9 338.9,176.1 340.1,176.4 341.3,176.7 342.5,177.0 343.7,177.3 344.8,177.9 345.9,178.5 347.1,178.8 348.3,178.9 349.6,179.2 350.7,179.6 351.7,180.3 352.7,181.0 353.7,181.7 354.7,182.4 355.7,183.0 356.9,183.5 357.8,184.0 359.1,184.2 360.3,184.6 361.5,184.9 362.8,185.0 364.1,185.1 365.3,185.2 366.6,185.3 367.8,185.4 369.1,185.5 370.3,185.8 371.6,186.0 372.8,186.1 374.1,185.9 375.4,185.9 376.6,186.2 377.8,186.6 379.1,186.8 380.2,187.3 381.4,187.8 382.6,188.3 383.8,188.6 385.1,188.9 386.2,189.5 387.3,190.1 388.5,190.6 389.7,190.9 391.0,191.2 392.1,191.7 393.2,192.2 394.3,192.8 395.4,193.3 396.4,194.0 397.5,194.6 398.7,195.0 399.9,195.2 401.0,195.6 402.1,196.3 403.2,196.9 404.3,197.3 405.4,197.7 406.6,198.2 407.7,198.6 408.9,199.0 410.2,199.7 410.2,201.1 410.0,202.5 410.1,203.8 410.5,205.2 410.9,206.5 411.0,207.9 410.9,209.2 410.8,210.6 410.6,211.9 410.4,213.2 410.3,214.6 410.4,216.0 410.3,217.3 409.9,218.6 409.7,220.1 409.7,221.6 409.8,223.0 409.9,224.5" fill="none" stroke="#2222ee" stroke-width="1.15" stroke-linejoin="round"/>
<polyline points="250.0,155.9 251.1,156.4 252.3,156.7 253.5,156.9 254.7,157.3 255.8,158.0 256.8,158.7 258.0,159.1 259.1,159.4 260.3,159.8 261.5,160.2 262.7,160.5 263.7,160.9 264.9,160.3 266.2,159.8 267.4,159.2 268.5,158.3 269.6,157.6 270.9,157.1 272.2,156.6 273.4,156.0 274.4,155.4 275.5,154.8 276.5,154.1 277.5,153.2 278.5,152.4 279.5,151.8 280.7,151.4 281.8,150.8 282.8,150.0 283.4,148.6 284.2,147.4 285.1,146.1 285.9,144.9 287.2,144.5 288.5,144.2 289.6,143.5 290.7,142.7 291.9,142.1 293.1,141.7 294.4,141.2 295.6,140.7 296.8,140.3 298.1,139.9 299.3,139.5 300.6,139.1 301.8,138.7 303.2,138.6 304.5,138.4 305.7,137.9 306.9,137.3 308.1,136.8 309.4,136.5 310.6,136.3 311.9,136.2 313.1,136.2 314.4,136.2 315.6,135.9 316.8,135.6 318.1,135.4 319.3,135.5 320.6,135.6 321.9,135.4 323.0,134.8 324.0,134.2 325.1,133.5 326.2,132.9 327.2,132.2 328.4,131.7 329.6,131.4 330.8,131.0 331.8,130.3 332.8,129.6 334.0,129.1 335.2,128.8 336.4,128.4 337.5,128.0 338.7,127.5 339.9,127.1 341.0,126.5 342.0,125.8 343.1,125.2 344.3,124.9 345.6,124.6 346.7,124.2 347.8,124.6 349.0,125.0 350.2,125.5 351.3,126.0 352.5,126.4 353.6,126.9 354.7,127.6 355.8,128.1 357.0,128.4 358.3,128.6 359.5,129.0 360.5,129.7" fill="none" stroke="#2222ee" stroke-width="1.15" stroke-linejoin="round"/>
<polyline points="284.5,146.3 285.7,146.4 286.9,146.5 288.2,146.6 289.3,146.9 290.5,147.3 291.7,147.5 293.0,147.5 294.3,147.5 295.5,147.9 296.7,148.4 297.9,148.9 299.1,149.4 300.3,150.0 301.5,150.6 302.7,150.9 304.0,151.2 305.3,151.8 305.8,153.0 306.4,154.1 307.2,155.2 308.0,156.2 308.8,157.3 309.6,158.3 310.3,159.3 310.9,160.5 311.4,161.8 312.3,163.0 313.5,162.6 314.7,162.2 315.9,161.9 317.2,161.8 318.4,161.5 319.7,161.2 320.9,161.0 322.1,160.8 323.3,160.3 324.5,159.8 325.7,159.4 326.9,159.3 328.1,159.2 329.2,158.9 330.4,158.4 331.5,158.1 332.7,157.7 333.8,157.3 334.9,156.9 336.1,156.6 337.3,156.4 338.6,156.0 338.8,154.7 338.9,153.4 339.2,152.2 339.7,151.0 340.1,149.8 340.6,148.6 341.0,147.5 341.2,146.4 342.4,146.3 343.7,146.1 344.9,146.0 346.2,146.2 347.4,146.4 348.6,146.4 349.9,146.2 351.1,146.0 352.4,146.0 353.6,146.0 354.8,145.8 356.0,145.6 357.2,145.6 358.4,145.4 359.6,145.0 360.7,144.5 361.9,144.2 363.1,144.0 364.4,143.8 365.5,143.5 366.7,143.2 367.9,142.9 369.1,142.6 370.3,142.2 371.5,141.8 372.8,142.0 374.0,142.3 375.3,142.4 376.6,142.2 377.8,142.1 379.1,142.1 380.3,142.1 381.6,142.0 382.9,142.1 384.1,142.2 385.3,142.2 386.4,142.8 387.6,143.4 388.5,144.3 389.3,145.2 390.2,146.2 391.2,147.0 392.3,147.6" fill="none" stroke="#2222ee" stroke-width="1.15" stroke-linejoin="round"/>
<polyline points="359.0,250.5 360.0,249.8 361.0,249.1 362.0,248.5 363.1,248.0 364.2,247.5 365.2,246.7 366.1,245.9 367.1,245.2 368.2,244.7 369.3,244.2 370.4,243.6 371.4,243.0 372.5,242.5 373.5,241.8 374.4,241.0 375.4,240.3 376.5,239.7 377.7,239.4 378.9,238.9 379.9,238.3 381.0,237.6 382.0,237.0 383.2,236.5 384.3,236.0 385.4,235.5 386.6,235.1 387.7,234.7 388.8,234.2 389.8,233.4 390.8,232.6 391.9,232.0 393.1,231.5 394.2,230.9 395.3,230.2 396.4,229.6 397.5,229.0 398.5,228.3 399.5,227.5 400.7,227.0 401.9,226.6 403.1,226.1 404.1,225.3 405.1,224.5 406.7,224.4 408.3,224.4 410.0,224.4 410.9,225.3 411.9,226.3 412.9,227.1 414.1,227.7 415.1,228.6 416.0,229.6 417.1,230.6 418.3,230.0 419.4,229.4 420.6,228.7 421.7,228.0 422.8,227.3 423.9,226.6 425.2,226.2 426.5,225.8 427.3,224.9 428.1,223.9 429.0,222.9 429.9,222.1 430.9,221.3 431.8,220.4 432.7,219.6 433.5,218.6" fill="none" stroke="#2222ee" stroke-width="1.15" stroke-linejoin="round"/>
<polyline points="221.1,325.4 222.3,324.8 223.6,324.4 225.0,324.3 226.1,323.4 227.0,322.4 228.4,322.2 229.7,321.9 230.8,321.1 231.9,320.5 233.0,319.8 234.0,319.0 235.3,318.8 236.8,319.0 237.9,318.6 239.0,317.8 240.2,317.4 241.3,316.8 242.4,316.2 243.5,315.7 244.6,315.0 245.3,313.8 246.2,312.9 247.5,312.7 248.8,312.4 249.8,311.7 250.8,310.8 251.8,310.0 252.7,309.0 253.9,308.4 255.2,307.9 256.0,306.8 256.7,305.5 257.8,304.9 259.1,304.3 260.4,304.7 261.7,305.1 263.0,305.0 264.4,304.6 265.7,305.0 266.9,305.6 268.3,305.4 269.6,305.2 270.8,305.3 271.9,304.6 273.3,304.4 274.7,304.3 275.8,303.5 276.7,302.4 278.0,302.0 279.3,301.5 280.4,300.8 281.5,300.1 282.4,299.2 283.2,298.1 284.4,297.6 285.8,297.5 286.9,296.8 287.7,295.7 288.7,294.9 289.9,294.6 291.0,294.3 292.3,294.3 293.5,294.2 294.7,293.5 295.9,293.3 297.0,293.9 298.1,294.7 299.3,295.0 300.4,295.2 301.6,295.4 302.9,295.2 304.1,295.3 305.2,295.9 306.5,296.4 307.6,295.7 308.7,295.2 309.9,295.1 311.1,295.1 312.3,295.0 313.6,295.2 314.8,294.9 315.8,294.0 316.9,293.5 318.2,293.7 319.5,293.2 320.6,292.5 321.7,291.9 322.9,291.1 324.1,290.8 325.4,291.0 326.7,291.2 327.8,290.5 328.8,289.7 330.0,289.4 331.2,289.2 332.4,288.9 333.7,288.8 335.0,288.5 336.1,287.8 337.4,287.6 338.9,288.0 340.2,287.9 341.4,287.3 342.6,286.8 343.7,286.2 344.8,285.6 346.1,285.7 347.4,285.6 348.5,284.8 349.6,284.1 350.9,284.1 352.1,284.1 353.3,283.7 354.5,283.5 355.6,282.8 356.6,281.8 357.8,281.5 359.2,281.6 360.4,281.3 361.5,280.7 362.6,280.4 363.8,280.2 365.0,279.9 366.3,280.0 367.5,280.0 368.6,279.3 369.6,278.3 370.8,278.1 372.1,278.0 373.3,277.7 374.5,277.3 375.7,277.0 376.8,276.3 377.9,275.9 379.3,276.1 380.6,275.9 381.6,275.0 382.6,274.2 383.8,273.8 384.9,273.4 386.1,273.0 387.5,272.7 388.4,271.9 389.3,270.9 390.5,270.5 391.9,270.3 392.9,269.6 393.9,268.8 394.9,268.0 395.8,267.0 396.9,266.3 398.3,266.2 399.4,265.8 400.5,265.0 401.6,264.4 402.9,264.1 404.1,263.7 405.3,263.3 406.5,262.9 407.5,261.8 408.5,260.9 409.9,260.9 411.2,260.8 412.4,260.2 413.5,259.7 414.7,259.3 415.8,258.7 417.1,258.5 418.4,258.5 419.5,257.8 420.2,256.9 421.1,255.8 422.3,254.8 423.3,253.7 424.4,252.8 425.0,251.6 425.5,250.4 426.5,249.6 427.7,248.9 428.2,247.7 428.7,246.5 429.2,245.2 429.7,244.0 430.6,242.9 431.7,241.9 432.1,240.6 432.2,239.1 433.0,238.0 433.5,236.8 433.7,235.5 433.9,234.2 433.9,232.9 433.8,231.5 434.4,230.4 435.0,229.0 434.8,227.7 434.3,226.5 434.2,225.2 434.0,223.9 433.9,222.5 434.1,221.2 433.6,219.9 433.5,218.6" fill="none" stroke="#2222ee" stroke-width="1.15" stroke-linejoin="round"/>
<polyline points="323.0,291.4 322.7,292.7 322.2,294.0 322.8,295.4 323.7,296.7 322.9,298.0 322.8,299.4 323.4,300.7 323.3,301.9 323.6,303.2 322.9,304.7 322.6,306.0 324.0,307.1 324.5,308.4 324.3,309.7 324.6,311.0 324.6,312.3 325.3,313.6 325.6,314.8 324.6,316.3 324.7,317.5 325.7,318.6 326.2,319.7 326.7,320.8 326.8,322.0 326.4,323.4 327.0,324.4 327.9,325.5 327.4,326.8 327.1,328.1 327.3,329.4 327.7,330.7 328.8,331.9 328.8,333.2 328.0,334.7 328.6,335.9 329.0,337.2 328.7,338.6 328.8,339.7 327.3,339.8 326.5,341.2 325.8,342.7 324.2,342.7 322.9,343.2 321.8,343.9 320.7,344.6 320.6,345.9 319.5,346.8 318.8,347.9 319.5,349.3 319.7,350.6 319.2,351.7 318.8,352.9 318.2,354.0" fill="none" stroke="#2222ee" stroke-width="1.15" stroke-linejoin="round"/>
<polyline points="328.6,340.4 329.8,340.9 331.0,341.5 332.5,341.5 333.5,342.3 333.9,344.0 335.1,344.6 336.4,345.0 337.3,345.9 338.3,346.7 339.1,347.8 340.3,348.4 342.1,348.2 342.9,349.3 343.5,350.7 344.5,351.5 345.5,352.3 346.8,352.7 347.8,353.5 348.8,354.7 350.1,354.5 351.6,354.0 352.7,354.5 353.8,355.2 354.9,356.0 355.9,356.8 357.3,356.4 358.6,356.5 359.4,357.6 360.5,358.3 361.8,358.7 362.9,359.4 364.0,360.1 364.3,361.7 364.9,363.0 366.5,363.2 367.5,364.0 368.3,365.1 369.3,365.9 370.2,366.6 370.0,368.0 369.5,369.2 367.9,369.5 366.7,370.1 366.3,371.4 365.7,372.4 365.2,373.6 364.4,374.5 363.1,375.1 362.8,376.4 362.9,377.4 362.1,378.6 361.4,379.9 361.1,381.2 361.0,382.5 361.8,383.9 361.4,385.2 360.6,386.4 361.2,387.8 361.1,388.7 362.0,389.6 362.9,390.6 363.4,392.0 364.7,392.5 366.3,392.3 367.1,393.4 368.0,394.4 369.2,394.9 370.1,395.7 371.4,396.2 372.1,397.3 372.3,399.0 373.5,399.6 374.9,399.8 375.9,400.7 376.9,401.4 377.6,402.5 378.5,403.5 380.1,403.3 381.1,404.4 381.7,406.0 383.0,406.4 384.4,406.8 385.9,406.9 386.8,408.0" fill="none" stroke="#2222ee" stroke-width="1.15" stroke-linejoin="round"/>
<polyline points="424.0,252.5 424.2,253.8 423.9,255.0 423.9,256.3 423.5,257.5 421.9,258.4 421.2,259.5 422.0,261.0 422.5,262.4 422.0,263.5 422.1,264.8 422.2,266.1 422.0,267.4 422.9,268.6 423.6,269.9 422.6,271.3 422.5,271.5 421.5,272.6 420.6,273.7 419.5,274.6 418.9,274.6 418.9,276.0 418.6,277.5 419.8,278.4 421.0,279.3 420.8,280.8 420.5,282.3 420.9,283.5 421.3,284.7 422.3,285.7 423.7,287.5 422.7,288.3 421.0,288.3 420.1,289.2 419.7,290.6 418.8,291.4 417.7,292.1 416.7,292.9 415.1,293.6 414.5,294.7 415.4,296.2 416.2,297.6 415.6,298.7 414.7,299.7 414.5,300.9 414.2,302.1 413.9,303.3 414.2,304.6 413.8,305.9 412.1,306.2 411.1,307.0 411.3,308.6 411.3,310.1 410.6,311.1 410.0,312.1 408.9,313.1 407.4,312.9 406.3,313.8 405.6,315.2 404.1,315.2 402.4,314.9 401.4,315.7 400.4,316.8 399.6,317.7 399.5,319.1 398.6,320.0 396.9,320.3 396.1,321.2 396.1,322.7 395.6,323.8 394.5,324.8 395.4,325.6 396.3,326.4 397.2,327.2 398.7,327.2 400.4,326.8 401.2,327.9 401.5,329.5 402.2,330.6 403.2,331.5 403.9,332.6 405.0,333.4 405.6,334.6 405.6,336.2 406.8,337.0 408.8,337.2 409.5,338.1 409.9,339.4 410.5,340.5 411.1,341.7 411.7,342.8 413.0,343.2 414.3,343.6 414.6,345.0 414.8,346.4 416.2,346.9 417.7,346.8 418.9,347.3 420.0,347.8 420.9,348.7 421.4,350.4 422.3,351.3 424.0,351.0 425.2,351.3 425.9,352.6 426.9,353.4 428.1,353.7 429.0,354.6 430.3,355.2 431.6,355.8 431.6,357.5 431.4,359.2 432.4,359.8 433.4,360.8 433.6,362.0 434.0,363.1 434.3,364.3 434.2,365.6 434.7,366.7 435.7,368.7 434.6,369.4 433.0,368.8 431.5,368.7 430.4,369.2 429.2,369.7 428.2,370.6 427.3,371.7 425.8,371.5 424.4,371.4 423.6,372.8 422.7,374.0 421.3,374.1 420.0,374.1 418.6,374.1 417.2,373.8 416.1,374.5 415.4,376.1 414.5,376.2 413.3,377.2 413.0,378.4 413.3,379.7 413.1,381.0 413.0,382.2 412.7,383.4 411.3,384.2 409.9,385.1 410.3,386.6 410.7,388.1 410.0,389.2 409.3,390.3 408.9,391.5 408.2,392.6 408.1,393.9 408.4,395.4 407.4,396.1 406.0,397.7 406.4,399.0 407.2,400.3 407.7,401.6 408.3,402.9 408.2,404.3 408.1,405.1 406.6,406.0 405.1,406.7 403.7,405.6 402.2,405.7" fill="none" stroke="#2222ee" stroke-width="1.15" stroke-linejoin="round"/>
<polyline points="433.0,359.7 434.3,359.7 435.7,360.0 437.0,360.1 438.3,360.5 439.7,360.7 441.1,360.3 442.4,360.2 443.6,360.4 444.8,360.6 446.0,360.5 447.2,360.6 448.4,360.4 449.6,360.0 450.8,360.0 452.2,360.3 453.2,359.7 454.1,358.7 455.2,358.0 456.3,357.5 457.4,357.1 458.7,356.8 459.9,356.5 460.9,355.7 461.9,354.8 463.1,354.5 464.3,354.2 465.3,353.5 466.4,352.8 467.4,352.1 468.4,351.3 469.6,350.8 471.1,350.8 472.3,350.3 473.3,349.3 474.4,348.6 475.7,348.2 476.8,347.5 478.0,347.0 479.2,346.7 480.3,346.0 481.5,345.6 482.8,345.8" fill="none" stroke="#2222ee" stroke-width="1.15" stroke-linejoin="round"/>
<polyline points="324.3,417.3 325.5,417.5 326.6,417.9 327.8,418.2 328.8,419.1 330.2,418.6 331.6,418.2 332.3,420.0 332.9,421.0 334.4,421.2 335.8,421.7 337.5,421.7 338.2,423.2 339.0,424.5 341.0,424.1 341.7,425.3 342.2,426.9 343.0,427.9 343.9,428.9 345.9,428.4 347.3,428.7 347.5,430.7 348.7,431.3 350.1,431.3 351.1,432.0 352.3,432.5 353.0,434.2 354.1,434.9 356.0,433.6 357.3,433.8 358.1,435.1 359.3,434.8 360.6,434.9 361.7,434.1 362.9,433.4 364.5,434.8 365.8,434.8 366.7,433.1 367.8,432.4 369.0,431.9 370.7,432.2 370.7,434.0 372.7,434.3 373.4,435.5 373.3,437.5 374.5,438.2 375.4,439.1 376.9,439.6 377.9,440.5 377.0,442.3 377.3,443.6 378.8,444.1 379.0,445.3 380.2,446.1 381.3,446.8 382.4,447.5 384.2,446.3 385.7,446.0 386.5,447.9 387.8,447.7 389.0,447.2 390.1,446.8 391.2,445.9 391.9,446.2 391.9,447.6 394.1,448.0 395.2,448.9 395.1,450.4 395.2,451.7 395.0,453.2 396.1,454.1 396.7,454.5 398.1,455.6 399.3,455.8 400.3,454.5 401.4,453.8 402.6,453.2 403.8,453.2 405.2,454.6 406.1,454.5 407.6,453.4 408.8,454.0 409.9,454.8 411.2,454.8 412.5,454.9 414.0,453.9 415.3,453.8 416.2,455.9 417.4,456.5 418.7,455.9 420.0,456.1 421.3,456.1 422.4,456.8 423.6,457.5 425.2,456.0 426.5,455.9 427.5,457.6 428.6,458.3 429.8,458.8 431.2,458.6 432.6,457.8 433.7,459.1 434.8,459.8 436.4,458.5 437.7,458.6 438.8,459.3 440.0,460.2 441.6,461.1 442.6,459.8 443.7,458.4 445.2,459.2 446.4,458.9 447.6,458.1 448.8,457.5 450.0,456.7 451.5,457.9 453.1,458.8 454.0,457.0" fill="none" stroke="#2222ee" stroke-width="1.15" stroke-linejoin="round"/></g>
</g>
<g transform="translate(640.4,0)"><polygon points="10.6,154.5 33.1,142 61.5,123.7 84,109.6 95.8,103.6 97,98.4 102.9,97.7 104,102.5 122.7,96.6 123.7,99.8 125.4,103.7 123.2,106.4 121.6,109.1 122.7,111.9 123.7,116.2 125.9,119 129.2,120.1 131.4,123.4 142.3,122.8 141.8,114.1 145.6,113 150,112.4 152.2,110.2 158.7,113.5 165.3,115.7 175.2,119 179,121.2 179.5,131 186.1,131 191.6,128.8 192.7,132.7 195.9,131 198.1,129.4 202.5,128.3 208,124.5 213.4,125 228.7,114.1 238.6,100.9 235.9,96.6 251.7,95.5 253,100.2 258.9,100.8 264.8,98.5 264.2,94.3 259.5,87.2 258.3,81.3 264.2,77.8 270.7,74.8 279.6,73.6 280.8,75.4 278.4,85.4 284.3,84.9 293.8,86 296.7,81.9 303.3,75.4 308,69.5 311.5,68.9 315.1,70.7 318,73 319.8,77.2 318.6,80.7 316.3,85 310.4,84.9 309.8,87.2 312.7,88.4 321,88.4 325.7,86 328.1,89 331.7,92 335.2,87.2 341.1,81.3 341.7,75.4 344.7,71.8 347,74.2 351.8,76 354.7,83.7 350.6,92 356.5,99 358.9,107.3 362.4,109.7 368.3,107.6 371.8,110.6 373,118.9 387.2,117.7 396.7,118.9 399,115.4 406.1,111.4 410.8,114.2 415.6,118.9 416.7,127.2 427.9,134 437.8,134.9 444.7,135.9 445.6,140.8 449.6,139.9 452.5,141.8 456.5,144.8 452.5,146.8 451.6,151.7 452.5,154.7 448.6,156.6 449.6,161.6 446.6,164.5 444.7,171.4 444.7,177.3 439.7,182.3 443.7,186.2 438.7,190.2 437.8,195.1 431.8,201 427.9,205 429.9,210.9 432.2,214.5 435.8,216.8 436.4,221.6 435.2,227.5 439.3,226.9 442.9,224.5 446.4,222.2 450,226.3 454.7,227.5 457.1,225.7 460.6,225.1 463,227.5 468.9,226.3 476,226.9 480.7,227.5 483.1,233.4 492.2,235.5 497,243.7 501.7,248.5 504,253.2 514.7,254.4 513.5,260.3 507.6,263.8 501.7,271 504,275.7 508.6,280 515.4,281.7 522,282.5 527.1,288.4 528.8,295.1 527.1,306.8 533,313.5 534.6,317.7 528.8,321.1 522,320.2 518.7,325.3 512,330.3 505.3,335.3 502.8,340.4 504.5,345.4 501.1,350.4 498.6,353.8 496.1,357.1 496.9,360.5 500.3,359.6 499.4,356.3 495.2,353.8 491,352.9 486.9,355.4 484.3,354.6 482.7,350.4 475.1,353.8 472.6,359.6 466.7,365 463.8,366.8 459.6,376.9 455.2,385.7 451.7,392 448.1,399 444.6,411.5 448.1,418.6 446.3,425.7 451.7,434.6 457,443.4 460,458 460,473.4 456.7,475.8 452,481.7 446,484.1 440.1,486.5 435.4,487.6 428.3,493.6 421.2,493.6 414.1,495.9 408.2,495.9 403.1,477.3 393.6,471 385.8,472.6 387.3,463.1 382.6,458.4 377.9,456.8 366,455.2 360.5,450.5 358.9,444.2 352.6,439.4 340,433.1 334.3,437 323.7,435.3 322.8,426.4 323.7,419.3 327.2,415.7 326.3,410.4 324.6,406.8 320.1,401.5 314.8,398 315.7,394.4 318.3,387.3 318.3,376.6 322.8,371.3 323.7,367.8 327.2,362.4 326.3,358.9 321.9,357.1 318.3,355.3 316.6,358 311.2,362.4 302.4,369.5 298.8,375.8 299.7,383.7 298.8,391.7 288.2,395.3 277.5,398 273.9,401.5 266.8,404.2 261.5,401.5 253.5,400.6 247.3,398 238.4,399.7 231.3,400.6 231.3,398 225.1,394.4 224.2,387.3 226.9,382 233.1,379.3 236.6,376.6 233.1,367.8 232.2,363.3 223.3,362.4 224.2,357.1 226.9,350 227.3,347.3 229.7,341 233.6,337.8 235.2,333.9 231.2,330.7 227.3,329.1 228.9,332.3 227.3,336.2 224.1,334.7 224.1,330 221,326 216.2,323.6 211.5,315.7 207.6,315.1 197,317.5 189.9,318.7 178,315.1 169.8,316.3 167.4,324.6 163.8,321 159.1,310.4 160.3,298.6 156.8,289.1 149.7,284.4 137.8,284.4 139,279.7 135.5,277.3 128.4,280.8 121.3,283.2 114.2,280.8 108.3,274.9 107.1,265.5 103.5,251.3 104.7,244.2 102.4,237.1 95.8,233.2 93.4,223.7 89.9,220.2 83.9,221.4 79.2,222.6 73.3,223.7 63.8,229.7 62.7,233.2 56.8,239.1 49.7,234.4 43.7,233.2 39,226.1 34.3,217.8 30.7,213.1 22.5,213.1 16.6,204.8 18.9,196.6 16.6,190.6 17.7,188.3 20.1,181.7 17.2,175.7 13.3,172.6 14.1,169.4 11.7,158.4" fill="none" stroke="#2b2b2b" stroke-width="1.8" stroke-linejoin="round"/><ellipse cx="331.7" cy="81.9" rx="2.4" ry="2.9" fill="#262626"/></g></g>
<rect x="563" y="96.00" width="26" height="56.93" fill="#a50026"/>
<rect x="563" y="152.43" width="26" height="56.93" fill="#e8583b"/>
<rect x="563" y="208.86" width="26" height="56.93" fill="#fdb96b"/>
<rect x="563" y="265.29" width="26" height="56.93" fill="#ffffbf"/>
<rect x="563" y="321.71" width="26" height="56.93" fill="#bde2ec"/>
<rect x="563" y="378.14" width="26" height="56.93" fill="#6399c6"/>
<rect x="563" y="434.57" width="26" height="56.93" fill="#313594"/>
<text x="601.5" y="101.8" font-size="14">12</text>
<text x="601.5" y="158.2" font-size="14">11</text>
<text x="601.5" y="214.7" font-size="14">10</text>
<text x="601.5" y="271.1" font-size="14">9</text>
<text x="601.5" y="327.5" font-size="14">8</text>
<text x="601.5" y="383.9" font-size="14">7</text>
<text x="601.5" y="440.4" font-size="14">6</text>
<text x="601.5" y="496.8" font-size="14">5</text>
<text x="617" y="73.6" font-size="14" font-weight="bold">°C</text>
<rect x="1203" y="96.00" width="26" height="99.25" fill="#a50026"/>
<rect x="1203" y="194.75" width="26" height="99.25" fill="#fdb96b"/>
<rect x="1203" y="293.50" width="26" height="99.25" fill="#bde2ec"/>
<rect x="1203" y="392.25" width="26" height="99.25" fill="#313594"/>
<text x="1241.3" y="101.8" font-size="14">1</text>
<text x="1241.3" y="200.6" font-size="14">0.5</text>
<text x="1241.3" y="299.3" font-size="14">0</text>
<text x="1241.3" y="398.1" font-size="14">-0.5</text>
<text x="1241.3" y="496.8" font-size="14">-1</text>
<text x="1198.8" y="74" font-size="14" font-weight="bold" textLength="74" lengthAdjust="spacingAndGlyphs">Verschil °C</text>
</svg></body></html>
